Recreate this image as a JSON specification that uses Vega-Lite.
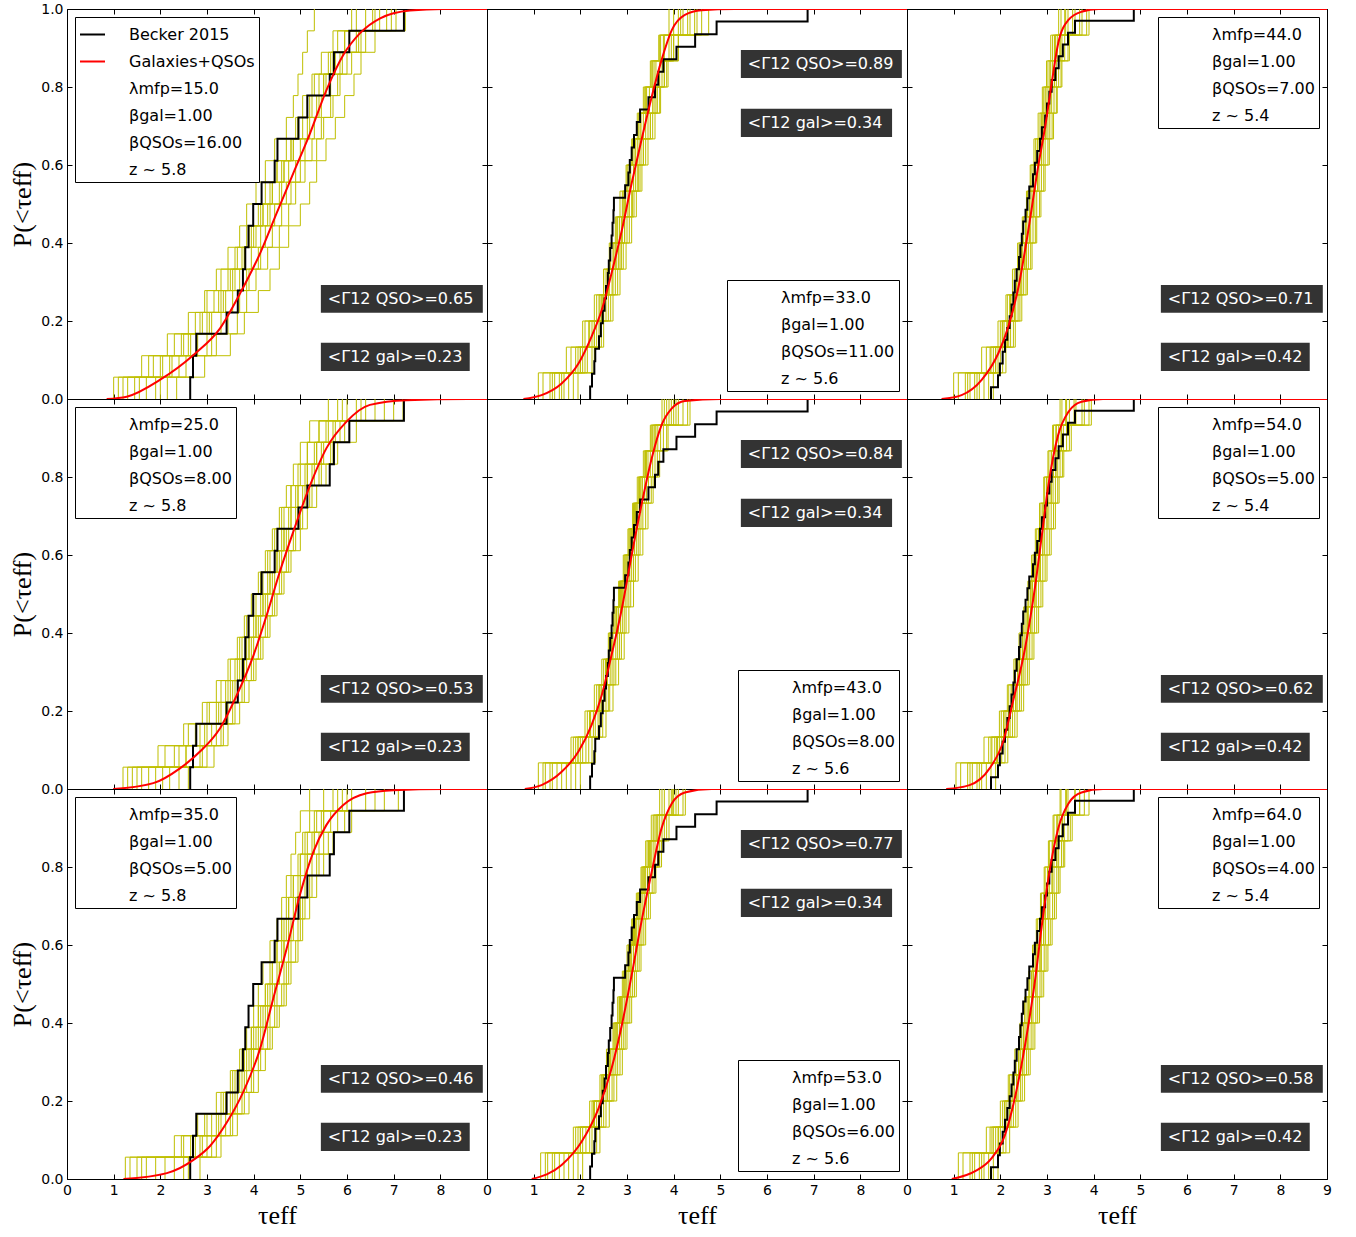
{
"$schema":"https://vega.github.io/schema/vega-lite/v6.json",
"background":"white",
"padding":{"left":9,"top":1,"right":0,"bottom":0},
"columns":3,
"spacing":0,
"bounds":"flush",
"resolve":{"scale":{"color":"independent"},"legend":{"color":"independent"}},
"datasets":{
"b58":[{"t":2.64,"y":0},{"t":2.64,"y":0.056},{"t":2.7,"y":0.111},{"t":2.77,"y":0.167},{"t":3.42,"y":0.222},{"t":3.66,"y":0.278},{"t":3.77,"y":0.333},{"t":3.82,"y":0.389},{"t":3.89,"y":0.444},{"t":3.99,"y":0.5},{"t":4.17,"y":0.556},{"t":4.45,"y":0.611},{"t":4.51,"y":0.667},{"t":4.96,"y":0.722},{"t":5.15,"y":0.778},{"t":5.63,"y":0.833},{"t":5.72,"y":0.889},{"t":6.05,"y":0.944},{"t":7.22,"y":1},{"t":9,"y":1}],
"b56":[{"t":2.21,"y":0},{"t":2.21,"y":0.032},{"t":2.25,"y":0.065},{"t":2.3,"y":0.097},{"t":2.32,"y":0.129},{"t":2.4,"y":0.161},{"t":2.44,"y":0.194},{"t":2.48,"y":0.226},{"t":2.52,"y":0.258},{"t":2.55,"y":0.29},{"t":2.59,"y":0.323},{"t":2.61,"y":0.355},{"t":2.64,"y":0.387},{"t":2.67,"y":0.419},{"t":2.69,"y":0.452},{"t":2.71,"y":0.484},{"t":2.72,"y":0.516},{"t":2.96,"y":0.548},{"t":3.03,"y":0.581},{"t":3.06,"y":0.613},{"t":3.1,"y":0.645},{"t":3.15,"y":0.677},{"t":3.21,"y":0.71},{"t":3.28,"y":0.742},{"t":3.46,"y":0.774},{"t":3.6,"y":0.806},{"t":3.67,"y":0.839},{"t":3.78,"y":0.871},{"t":4.06,"y":0.903},{"t":4.46,"y":0.935},{"t":4.92,"y":0.968},{"t":6.87,"y":1},{"t":9,"y":1}],
"b54":[{"t":1.8,"y":0},{"t":1.8,"y":0.03},{"t":1.95,"y":0.061},{"t":1.99,"y":0.091},{"t":2.05,"y":0.121},{"t":2.1,"y":0.152},{"t":2.15,"y":0.182},{"t":2.2,"y":0.212},{"t":2.24,"y":0.242},{"t":2.28,"y":0.273},{"t":2.31,"y":0.303},{"t":2.35,"y":0.333},{"t":2.4,"y":0.364},{"t":2.43,"y":0.394},{"t":2.46,"y":0.424},{"t":2.49,"y":0.455},{"t":2.54,"y":0.485},{"t":2.58,"y":0.515},{"t":2.62,"y":0.545},{"t":2.7,"y":0.576},{"t":2.74,"y":0.606},{"t":2.79,"y":0.636},{"t":2.85,"y":0.667},{"t":2.89,"y":0.697},{"t":2.96,"y":0.727},{"t":3,"y":0.758},{"t":3.05,"y":0.788},{"t":3.1,"y":0.818},{"t":3.18,"y":0.848},{"t":3.25,"y":0.879},{"t":3.34,"y":0.909},{"t":3.45,"y":0.939},{"t":3.6,"y":0.97},{"t":4.86,"y":1},{"t":9,"y":1}],
"r1":[{"t":0.85,"y":0},{"t":1.28,"y":0.006},{"t":1.99,"y":0.049},{"t":2.71,"y":0.113},{"t":3.28,"y":0.181},{"t":3.71,"y":0.271},{"t":4.14,"y":0.374},{"t":4.49,"y":0.476},{"t":4.85,"y":0.579},{"t":5.21,"y":0.682},{"t":5.56,"y":0.792},{"t":5.92,"y":0.882},{"t":6.28,"y":0.938},{"t":6.71,"y":0.976},{"t":7.35,"y":0.996},{"t":8.06,"y":1},{"t":9,"y":1}],
"r4":[{"t":0.99,"y":0},{"t":1.85,"y":0.015},{"t":2.42,"y":0.053},{"t":2.85,"y":0.096},{"t":3.28,"y":0.156},{"t":3.64,"y":0.241},{"t":4,"y":0.344},{"t":4.28,"y":0.446},{"t":4.56,"y":0.557},{"t":4.85,"y":0.66},{"t":5.21,"y":0.779},{"t":5.56,"y":0.874},{"t":5.99,"y":0.942},{"t":6.49,"y":0.985},{"t":7.28,"y":0.997},{"t":8.6,"y":1},{"t":9,"y":1}],
"r7":[{"t":1.21,"y":0},{"t":2.14,"y":0.015},{"t":2.71,"y":0.049},{"t":3.06,"y":0.084},{"t":3.42,"y":0.144},{"t":3.78,"y":0.224},{"t":4.14,"y":0.335},{"t":4.42,"y":0.463},{"t":4.71,"y":0.592},{"t":4.99,"y":0.728},{"t":5.28,"y":0.839},{"t":5.56,"y":0.908},{"t":5.92,"y":0.959},{"t":6.42,"y":0.989},{"t":6.99,"y":0.997},{"t":8.1,"y":1},{"t":9,"y":1}],
"r2":[{"t":0.78,"y":0},{"t":1.17,"y":0.01},{"t":1.6,"y":0.04},{"t":1.96,"y":0.091},{"t":2.24,"y":0.16},{"t":2.46,"y":0.229},{"t":2.67,"y":0.323},{"t":2.89,"y":0.433},{"t":3.1,"y":0.553},{"t":3.31,"y":0.664},{"t":3.53,"y":0.775},{"t":3.74,"y":0.869},{"t":3.96,"y":0.946},{"t":4.24,"y":0.985},{"t":4.6,"y":0.997},{"t":5.3,"y":1},{"t":9,"y":1}],
"r5":[{"t":0.81,"y":0},{"t":1.17,"y":0.01},{"t":1.6,"y":0.044},{"t":1.96,"y":0.096},{"t":2.24,"y":0.164},{"t":2.46,"y":0.241},{"t":2.67,"y":0.344},{"t":2.89,"y":0.463},{"t":3.1,"y":0.6},{"t":3.31,"y":0.728},{"t":3.53,"y":0.848},{"t":3.74,"y":0.933},{"t":3.96,"y":0.976},{"t":4.24,"y":0.995},{"t":5,"y":1},{"t":9,"y":1}],
"r8":[{"t":0.96,"y":0},{"t":1.6,"y":0.036},{"t":2.03,"y":0.096},{"t":2.39,"y":0.181},{"t":2.67,"y":0.284},{"t":2.89,"y":0.395},{"t":3.1,"y":0.523},{"t":3.31,"y":0.66},{"t":3.53,"y":0.788},{"t":3.74,"y":0.899},{"t":3.96,"y":0.963},{"t":4.24,"y":0.991},{"t":4.81,"y":1},{"t":9,"y":1}],
"r3":[{"t":0.74,"y":0},{"t":1.17,"y":0.01},{"t":1.6,"y":0.049},{"t":1.96,"y":0.118},{"t":2.17,"y":0.185},{"t":2.39,"y":0.288},{"t":2.6,"y":0.433},{"t":2.81,"y":0.596},{"t":2.96,"y":0.698},{"t":3.1,"y":0.809},{"t":3.24,"y":0.912},{"t":3.46,"y":0.972},{"t":3.74,"y":0.993},{"t":4.1,"y":1},{"t":9,"y":1}],
"r6":[{"t":0.84,"y":0},{"t":1.34,"y":0.01},{"t":1.77,"y":0.053},{"t":2.06,"y":0.121},{"t":2.27,"y":0.224},{"t":2.53,"y":0.361},{"t":2.74,"y":0.515},{"t":2.89,"y":0.651},{"t":3.03,"y":0.779},{"t":3.24,"y":0.908},{"t":3.46,"y":0.967},{"t":3.74,"y":0.993},{"t":4.2,"y":1},{"t":9,"y":1}],
"r9":[{"t":0.96,"y":0},{"t":1.46,"y":0.02},{"t":1.81,"y":0.053},{"t":2.1,"y":0.113},{"t":2.31,"y":0.207},{"t":2.53,"y":0.344},{"t":2.74,"y":0.506},{"t":2.89,"y":0.651},{"t":3.03,"y":0.771},{"t":3.24,"y":0.899},{"t":3.46,"y":0.963},{"t":3.74,"y":0.991},{"t":4.2,"y":1},{"t":9,"y":1}],
"y1":[
{"c":1,"t":1.2,"y":0},{"c":1,"t":1.2,"y":0.056},{"c":1,"t":1.85,"y":0.111},{"c":1,"t":2.3,"y":0.167},{"c":1,"t":2.75,"y":0.222},{"c":1,"t":3,"y":0.278},{"c":1,"t":3.2,"y":0.333},{"c":1,"t":3.45,"y":0.389},{"c":1,"t":3.7,"y":0.444},{"c":1,"t":3.85,"y":0.5},{"c":1,"t":4.05,"y":0.556},{"c":1,"t":4.25,"y":0.611},{"c":1,"t":4.45,"y":0.667},{"c":1,"t":4.7,"y":0.722},{"c":1,"t":4.85,"y":0.778},{"c":1,"t":4.95,"y":0.833},{"c":1,"t":5.05,"y":0.889},{"c":1,"t":5.15,"y":0.944},{"c":1,"t":5.3,"y":1},
{"c":2,"t":1.45,"y":0},{"c":2,"t":1.45,"y":0.056},{"c":2,"t":2.2,"y":0.111},{"c":2,"t":2.6,"y":0.167},{"c":2,"t":3.1,"y":0.222},{"c":2,"t":3.35,"y":0.278},{"c":2,"t":3.5,"y":0.333},{"c":2,"t":3.8,"y":0.389},{"c":2,"t":3.95,"y":0.444},{"c":2,"t":4.2,"y":0.5},{"c":2,"t":4.4,"y":0.556},{"c":2,"t":4.5,"y":0.611},{"c":2,"t":4.8,"y":0.667},{"c":2,"t":4.95,"y":0.722},{"c":2,"t":5.15,"y":0.778},{"c":2,"t":5.3,"y":0.833},{"c":2,"t":5.6,"y":0.889},{"c":2,"t":5.8,"y":0.944},{"c":2,"t":6.2,"y":1},
{"c":3,"t":1.7,"y":0},{"c":3,"t":1.7,"y":0.056},{"c":3,"t":2.4,"y":0.111},{"c":3,"t":3,"y":0.167},{"c":3,"t":3.3,"y":0.222},{"c":3,"t":3.55,"y":0.278},{"c":3,"t":3.85,"y":0.333},{"c":3,"t":4.1,"y":0.389},{"c":3,"t":4.25,"y":0.444},{"c":3,"t":4.45,"y":0.5},{"c":3,"t":4.7,"y":0.556},{"c":3,"t":4.9,"y":0.611},{"c":3,"t":5,"y":0.667},{"c":3,"t":5.3,"y":0.722},{"c":3,"t":5.45,"y":0.778},{"c":3,"t":5.65,"y":0.833},{"c":3,"t":5.85,"y":0.889},{"c":3,"t":6.05,"y":0.944},{"c":3,"t":6.55,"y":1},
{"c":4,"t":2,"y":0},{"c":4,"t":2,"y":0.056},{"c":4,"t":2.7,"y":0.111},{"c":4,"t":3.2,"y":0.167},{"c":4,"t":3.65,"y":0.222},{"c":4,"t":3.85,"y":0.278},{"c":4,"t":4.05,"y":0.333},{"c":4,"t":4.3,"y":0.389},{"c":4,"t":4.55,"y":0.444},{"c":4,"t":4.75,"y":0.5},{"c":4,"t":4.9,"y":0.556},{"c":4,"t":5.1,"y":0.611},{"c":4,"t":5.35,"y":0.667},{"c":4,"t":5.5,"y":0.722},{"c":4,"t":5.7,"y":0.778},{"c":4,"t":5.85,"y":0.833},{"c":4,"t":6.1,"y":0.889},{"c":4,"t":6.4,"y":0.944},{"c":4,"t":6.85,"y":1},
{"c":5,"t":2.35,"y":0},{"c":5,"t":2.35,"y":0.056},{"c":5,"t":2.95,"y":0.111},{"c":5,"t":3.5,"y":0.167},{"c":5,"t":3.8,"y":0.222},{"c":5,"t":4.1,"y":0.278},{"c":5,"t":4.35,"y":0.333},{"c":5,"t":4.55,"y":0.389},{"c":5,"t":4.75,"y":0.444},{"c":5,"t":5,"y":0.5},{"c":5,"t":5.2,"y":0.556},{"c":5,"t":5.35,"y":0.611},{"c":5,"t":5.55,"y":0.667},{"c":5,"t":5.75,"y":0.722},{"c":5,"t":5.95,"y":0.778},{"c":5,"t":6.15,"y":0.833},{"c":5,"t":6.3,"y":0.889},{"c":5,"t":6.6,"y":0.944},{"c":5,"t":7.05,"y":1},
{"c":6,"t":1.1,"y":0},{"c":6,"t":1.1,"y":0.056},{"c":6,"t":1.6,"y":0.111},{"c":6,"t":2.5,"y":0.167},{"c":6,"t":2.9,"y":0.222},{"c":6,"t":3.25,"y":0.278},{"c":6,"t":3.6,"y":0.333},{"c":6,"t":3.75,"y":0.389},{"c":6,"t":4,"y":0.444},{"c":6,"t":4.3,"y":0.5},{"c":6,"t":4.6,"y":0.556},{"c":6,"t":4.75,"y":0.611},{"c":6,"t":5.1,"y":0.667},{"c":6,"t":5.2,"y":0.722},{"c":6,"t":5.35,"y":0.778},{"c":6,"t":5.5,"y":0.833},{"c":6,"t":5.75,"y":0.889},{"c":6,"t":6.3,"y":0.944},{"c":6,"t":7.25,"y":1},
{"c":7,"t":1.9,"y":0},{"c":7,"t":1.9,"y":0.056},{"c":7,"t":2.25,"y":0.111},{"c":7,"t":2.8,"y":0.167},{"c":7,"t":3,"y":0.222},{"c":7,"t":3.4,"y":0.278},{"c":7,"t":3.7,"y":0.333},{"c":7,"t":3.95,"y":0.389},{"c":7,"t":4.15,"y":0.444},{"c":7,"t":4.35,"y":0.5},{"c":7,"t":4.55,"y":0.556},{"c":7,"t":4.65,"y":0.611},{"c":7,"t":4.85,"y":0.667},{"c":7,"t":5.05,"y":0.722},{"c":7,"t":5.25,"y":0.778},{"c":7,"t":5.55,"y":0.833},{"c":7,"t":5.9,"y":0.889},{"c":7,"t":6.25,"y":0.944},{"c":7,"t":6.7,"y":1},
{"c":8,"t":1.55,"y":0},{"c":8,"t":1.55,"y":0.056},{"c":8,"t":2.05,"y":0.111},{"c":8,"t":2.45,"y":0.167},{"c":8,"t":2.85,"y":0.222},{"c":8,"t":3.15,"y":0.278},{"c":8,"t":3.45,"y":0.333},{"c":8,"t":3.65,"y":0.389},{"c":8,"t":3.9,"y":0.444},{"c":8,"t":4.15,"y":0.5},{"c":8,"t":4.35,"y":0.556},{"c":8,"t":4.6,"y":0.611},{"c":8,"t":4.85,"y":0.667},{"c":8,"t":5.15,"y":0.722},{"c":8,"t":5.4,"y":0.778},{"c":8,"t":5.5,"y":0.833},{"c":8,"t":5.7,"y":0.889},{"c":8,"t":5.95,"y":0.944},{"c":8,"t":6.4,"y":1},
{"c":9,"t":1.3,"y":0},{"c":9,"t":1.3,"y":0.056},{"c":9,"t":2,"y":0.111},{"c":9,"t":2.65,"y":0.167},{"c":9,"t":3.05,"y":0.222},{"c":9,"t":3.3,"y":0.278},{"c":9,"t":3.55,"y":0.333},{"c":9,"t":3.8,"y":0.389},{"c":9,"t":4.05,"y":0.444},{"c":9,"t":4.2,"y":0.5},{"c":9,"t":4.4,"y":0.556},{"c":9,"t":4.65,"y":0.611},{"c":9,"t":4.8,"y":0.667},{"c":9,"t":4.95,"y":0.722},{"c":9,"t":5.2,"y":0.778},{"c":9,"t":5.4,"y":0.833},{"c":9,"t":5.65,"y":0.889},{"c":9,"t":5.95,"y":0.944},{"c":9,"t":6.6,"y":1},
{"c":10,"t":2.15,"y":0},{"c":10,"t":2.15,"y":0.056},{"c":10,"t":2.55,"y":0.111},{"c":10,"t":3.1,"y":0.167},{"c":10,"t":3.45,"y":0.222},{"c":10,"t":3.7,"y":0.278},{"c":10,"t":3.9,"y":0.333},{"c":10,"t":4.15,"y":0.389},{"c":10,"t":4.4,"y":0.444},{"c":10,"t":4.6,"y":0.5},{"c":10,"t":4.8,"y":0.556},{"c":10,"t":5,"y":0.611},{"c":10,"t":5.25,"y":0.667},{"c":10,"t":5.45,"y":0.722},{"c":10,"t":5.65,"y":0.778},{"c":10,"t":5.8,"y":0.833},{"c":10,"t":6,"y":0.889},{"c":10,"t":6.2,"y":0.944},{"c":10,"t":6.95,"y":1},
{"c":11,"t":1,"y":0},{"c":11,"t":1,"y":0.056},{"c":11,"t":1.75,"y":0.111},{"c":11,"t":2.15,"y":0.167},{"c":11,"t":2.6,"y":0.222},{"c":11,"t":2.95,"y":0.278},{"c":11,"t":3.3,"y":0.333},{"c":11,"t":3.6,"y":0.389},{"c":11,"t":3.85,"y":0.444},{"c":11,"t":4.1,"y":0.5},{"c":11,"t":4.25,"y":0.556},{"c":11,"t":4.5,"y":0.611},{"c":11,"t":4.7,"y":0.667},{"c":11,"t":4.9,"y":0.722},{"c":11,"t":5.05,"y":0.778},{"c":11,"t":5.25,"y":0.833},{"c":11,"t":5.45,"y":0.889},{"c":11,"t":5.7,"y":0.944},{"c":11,"t":6.1,"y":1}],
"y4":[
{"c":1,"t":1.3,"y":0},{"c":1,"t":1.3,"y":0.056},{"c":1,"t":2.1,"y":0.111},{"c":1,"t":2.6,"y":0.167},{"c":1,"t":3,"y":0.222},{"c":1,"t":3.3,"y":0.278},{"c":1,"t":3.5,"y":0.333},{"c":1,"t":3.7,"y":0.389},{"c":1,"t":3.85,"y":0.444},{"c":1,"t":3.95,"y":0.5},{"c":1,"t":4.1,"y":0.556},{"c":1,"t":4.25,"y":0.611},{"c":1,"t":4.4,"y":0.667},{"c":1,"t":4.55,"y":0.722},{"c":1,"t":4.7,"y":0.778},{"c":1,"t":4.85,"y":0.833},{"c":1,"t":5,"y":0.889},{"c":1,"t":5.2,"y":0.944},{"c":1,"t":5.6,"y":1},
{"c":2,"t":1.6,"y":0},{"c":2,"t":1.6,"y":0.056},{"c":2,"t":2.4,"y":0.111},{"c":2,"t":2.85,"y":0.167},{"c":2,"t":3.2,"y":0.222},{"c":2,"t":3.45,"y":0.278},{"c":2,"t":3.65,"y":0.333},{"c":2,"t":3.85,"y":0.389},{"c":2,"t":4,"y":0.444},{"c":2,"t":4.15,"y":0.5},{"c":2,"t":4.3,"y":0.556},{"c":2,"t":4.45,"y":0.611},{"c":2,"t":4.6,"y":0.667},{"c":2,"t":4.75,"y":0.722},{"c":2,"t":4.9,"y":0.778},{"c":2,"t":5.1,"y":0.833},{"c":2,"t":5.3,"y":0.889},{"c":2,"t":5.55,"y":0.944},{"c":2,"t":6,"y":1},
{"c":3,"t":1.9,"y":0},{"c":3,"t":1.9,"y":0.056},{"c":3,"t":2.7,"y":0.111},{"c":3,"t":3.1,"y":0.167},{"c":3,"t":3.4,"y":0.222},{"c":3,"t":3.6,"y":0.278},{"c":3,"t":3.8,"y":0.333},{"c":3,"t":3.95,"y":0.389},{"c":3,"t":4.1,"y":0.444},{"c":3,"t":4.25,"y":0.5},{"c":3,"t":4.4,"y":0.556},{"c":3,"t":4.55,"y":0.611},{"c":3,"t":4.7,"y":0.667},{"c":3,"t":4.9,"y":0.722},{"c":3,"t":5.05,"y":0.778},{"c":3,"t":5.25,"y":0.833},{"c":3,"t":5.45,"y":0.889},{"c":3,"t":5.75,"y":0.944},{"c":3,"t":6.4,"y":1},
{"c":4,"t":2.2,"y":0},{"c":4,"t":2.2,"y":0.056},{"c":4,"t":2.9,"y":0.111},{"c":4,"t":3.3,"y":0.167},{"c":4,"t":3.55,"y":0.222},{"c":4,"t":3.75,"y":0.278},{"c":4,"t":3.95,"y":0.333},{"c":4,"t":4.1,"y":0.389},{"c":4,"t":4.25,"y":0.444},{"c":4,"t":4.4,"y":0.5},{"c":4,"t":4.55,"y":0.556},{"c":4,"t":4.7,"y":0.611},{"c":4,"t":4.85,"y":0.667},{"c":4,"t":5,"y":0.722},{"c":4,"t":5.2,"y":0.778},{"c":4,"t":5.4,"y":0.833},{"c":4,"t":5.65,"y":0.889},{"c":4,"t":5.95,"y":0.944},{"c":4,"t":6.8,"y":1},
{"c":5,"t":2.6,"y":0},{"c":5,"t":2.6,"y":0.056},{"c":5,"t":3.15,"y":0.111},{"c":5,"t":3.45,"y":0.167},{"c":5,"t":3.7,"y":0.222},{"c":5,"t":3.9,"y":0.278},{"c":5,"t":4.05,"y":0.333},{"c":5,"t":4.2,"y":0.389},{"c":5,"t":4.35,"y":0.444},{"c":5,"t":4.5,"y":0.5},{"c":5,"t":4.65,"y":0.556},{"c":5,"t":4.8,"y":0.611},{"c":5,"t":5,"y":0.667},{"c":5,"t":5.15,"y":0.722},{"c":5,"t":5.35,"y":0.778},{"c":5,"t":5.55,"y":0.833},{"c":5,"t":5.8,"y":0.889},{"c":5,"t":6.2,"y":0.944},{"c":5,"t":7.2,"y":1},
{"c":6,"t":1.4,"y":0},{"c":6,"t":1.4,"y":0.056},{"c":6,"t":2.3,"y":0.111},{"c":6,"t":2.75,"y":0.167},{"c":6,"t":3.05,"y":0.222},{"c":6,"t":3.4,"y":0.278},{"c":6,"t":3.6,"y":0.333},{"c":6,"t":3.75,"y":0.389},{"c":6,"t":3.9,"y":0.444},{"c":6,"t":4.05,"y":0.5},{"c":6,"t":4.2,"y":0.556},{"c":6,"t":4.35,"y":0.611},{"c":6,"t":4.5,"y":0.667},{"c":6,"t":4.65,"y":0.722},{"c":6,"t":4.8,"y":0.778},{"c":6,"t":5,"y":0.833},{"c":6,"t":5.15,"y":0.889},{"c":6,"t":5.4,"y":0.944},{"c":6,"t":5.8,"y":1},
{"c":7,"t":2.05,"y":0},{"c":7,"t":2.05,"y":0.056},{"c":7,"t":2.55,"y":0.111},{"c":7,"t":2.95,"y":0.167},{"c":7,"t":3.3,"y":0.222},{"c":7,"t":3.5,"y":0.278},{"c":7,"t":3.7,"y":0.333},{"c":7,"t":3.9,"y":0.389},{"c":7,"t":4.05,"y":0.444},{"c":7,"t":4.2,"y":0.5},{"c":7,"t":4.35,"y":0.556},{"c":7,"t":4.5,"y":0.611},{"c":7,"t":4.65,"y":0.667},{"c":7,"t":4.8,"y":0.722},{"c":7,"t":4.95,"y":0.778},{"c":7,"t":5.15,"y":0.833},{"c":7,"t":5.35,"y":0.889},{"c":7,"t":5.6,"y":0.944},{"c":7,"t":6.2,"y":1},
{"c":8,"t":1.75,"y":0},{"c":8,"t":1.75,"y":0.056},{"c":8,"t":2.85,"y":0.111},{"c":8,"t":3.2,"y":0.167},{"c":8,"t":3.45,"y":0.222},{"c":8,"t":3.65,"y":0.278},{"c":8,"t":3.85,"y":0.333},{"c":8,"t":4,"y":0.389},{"c":8,"t":4.15,"y":0.444},{"c":8,"t":4.3,"y":0.5},{"c":8,"t":4.45,"y":0.556},{"c":8,"t":4.6,"y":0.611},{"c":8,"t":4.75,"y":0.667},{"c":8,"t":4.95,"y":0.722},{"c":8,"t":5.1,"y":0.778},{"c":8,"t":5.3,"y":0.833},{"c":8,"t":5.5,"y":0.889},{"c":8,"t":5.85,"y":0.944},{"c":8,"t":6.6,"y":1},
{"c":9,"t":1.5,"y":0},{"c":9,"t":1.5,"y":0.056},{"c":9,"t":2.55,"y":0.111},{"c":9,"t":3,"y":0.167},{"c":9,"t":3.25,"y":0.222},{"c":9,"t":3.55,"y":0.278},{"c":9,"t":3.75,"y":0.333},{"c":9,"t":3.9,"y":0.389},{"c":9,"t":4.05,"y":0.444},{"c":9,"t":4.2,"y":0.5},{"c":9,"t":4.35,"y":0.556},{"c":9,"t":4.5,"y":0.611},{"c":9,"t":4.65,"y":0.667},{"c":9,"t":4.8,"y":0.722},{"c":9,"t":4.95,"y":0.778},{"c":9,"t":5.15,"y":0.833},{"c":9,"t":5.35,"y":0.889},{"c":9,"t":5.7,"y":0.944},{"c":9,"t":6.3,"y":1},
{"c":10,"t":2.4,"y":0},{"c":10,"t":2.4,"y":0.056},{"c":10,"t":3,"y":0.111},{"c":10,"t":3.35,"y":0.167},{"c":10,"t":3.6,"y":0.222},{"c":10,"t":3.8,"y":0.278},{"c":10,"t":4,"y":0.333},{"c":10,"t":4.15,"y":0.389},{"c":10,"t":4.3,"y":0.444},{"c":10,"t":4.45,"y":0.5},{"c":10,"t":4.6,"y":0.556},{"c":10,"t":4.75,"y":0.611},{"c":10,"t":4.9,"y":0.667},{"c":10,"t":5.05,"y":0.722},{"c":10,"t":5.25,"y":0.778},{"c":10,"t":5.45,"y":0.833},{"c":10,"t":5.7,"y":0.889},{"c":10,"t":6.05,"y":0.944},{"c":10,"t":7,"y":1},
{"c":11,"t":1.2,"y":0},{"c":11,"t":1.2,"y":0.056},{"c":11,"t":1.95,"y":0.111},{"c":11,"t":2.5,"y":0.167},{"c":11,"t":2.9,"y":0.222},{"c":11,"t":3.2,"y":0.278},{"c":11,"t":3.45,"y":0.333},{"c":11,"t":3.65,"y":0.389},{"c":11,"t":3.8,"y":0.444},{"c":11,"t":4,"y":0.5},{"c":11,"t":4.15,"y":0.556},{"c":11,"t":4.3,"y":0.611},{"c":11,"t":4.45,"y":0.667},{"c":11,"t":4.6,"y":0.722},{"c":11,"t":4.8,"y":0.778},{"c":11,"t":4.95,"y":0.833},{"c":11,"t":5.15,"y":0.889},{"c":11,"t":5.4,"y":0.944},{"c":11,"t":5.9,"y":1}],
"y7":[
{"c":1,"t":1.25,"y":0},{"c":1,"t":1.25,"y":0.056},{"c":1,"t":2.3,"y":0.111},{"c":1,"t":2.8,"y":0.167},{"c":1,"t":3.2,"y":0.222},{"c":1,"t":3.5,"y":0.278},{"c":1,"t":3.7,"y":0.333},{"c":1,"t":3.85,"y":0.389},{"c":1,"t":4,"y":0.444},{"c":1,"t":4.1,"y":0.5},{"c":1,"t":4.2,"y":0.556},{"c":1,"t":4.35,"y":0.611},{"c":1,"t":4.5,"y":0.667},{"c":1,"t":4.6,"y":0.722},{"c":1,"t":4.7,"y":0.778},{"c":1,"t":4.8,"y":0.833},{"c":1,"t":4.9,"y":0.889},{"c":1,"t":5,"y":0.944},{"c":1,"t":5.2,"y":1},
{"c":2,"t":1.7,"y":0},{"c":2,"t":1.7,"y":0.056},{"c":2,"t":2.65,"y":0.111},{"c":2,"t":3.1,"y":0.167},{"c":2,"t":3.4,"y":0.222},{"c":2,"t":3.65,"y":0.278},{"c":2,"t":3.85,"y":0.333},{"c":2,"t":4,"y":0.389},{"c":2,"t":4.15,"y":0.444},{"c":2,"t":4.3,"y":0.5},{"c":2,"t":4.4,"y":0.556},{"c":2,"t":4.5,"y":0.611},{"c":2,"t":4.65,"y":0.667},{"c":2,"t":4.75,"y":0.722},{"c":2,"t":4.85,"y":0.778},{"c":2,"t":5,"y":0.833},{"c":2,"t":5.1,"y":0.889},{"c":2,"t":5.3,"y":0.944},{"c":2,"t":5.7,"y":1},
{"c":3,"t":2.1,"y":0},{"c":3,"t":2.1,"y":0.056},{"c":3,"t":2.9,"y":0.111},{"c":3,"t":3.3,"y":0.167},{"c":3,"t":3.6,"y":0.222},{"c":3,"t":3.8,"y":0.278},{"c":3,"t":3.95,"y":0.333},{"c":3,"t":4.15,"y":0.389},{"c":3,"t":4.3,"y":0.444},{"c":3,"t":4.45,"y":0.5},{"c":3,"t":4.55,"y":0.556},{"c":3,"t":4.65,"y":0.611},{"c":3,"t":4.8,"y":0.667},{"c":3,"t":4.9,"y":0.722},{"c":3,"t":5,"y":0.778},{"c":3,"t":5.15,"y":0.833},{"c":3,"t":5.3,"y":0.889},{"c":3,"t":5.5,"y":0.944},{"c":3,"t":6.1,"y":1},
{"c":4,"t":2.5,"y":0},{"c":4,"t":2.5,"y":0.056},{"c":4,"t":3.1,"y":0.111},{"c":4,"t":3.5,"y":0.167},{"c":4,"t":3.75,"y":0.222},{"c":4,"t":3.95,"y":0.278},{"c":4,"t":4.1,"y":0.333},{"c":4,"t":4.3,"y":0.389},{"c":4,"t":4.45,"y":0.444},{"c":4,"t":4.6,"y":0.5},{"c":4,"t":4.7,"y":0.556},{"c":4,"t":4.8,"y":0.611},{"c":4,"t":4.95,"y":0.667},{"c":4,"t":5.05,"y":0.722},{"c":4,"t":5.2,"y":0.778},{"c":4,"t":5.35,"y":0.833},{"c":4,"t":5.5,"y":0.889},{"c":4,"t":5.8,"y":0.944},{"c":4,"t":6.6,"y":1},
{"c":5,"t":2.85,"y":0},{"c":5,"t":2.85,"y":0.056},{"c":5,"t":3.3,"y":0.111},{"c":5,"t":3.65,"y":0.167},{"c":5,"t":3.9,"y":0.222},{"c":5,"t":4.1,"y":0.278},{"c":5,"t":4.25,"y":0.333},{"c":5,"t":4.4,"y":0.389},{"c":5,"t":4.55,"y":0.444},{"c":5,"t":4.7,"y":0.5},{"c":5,"t":4.8,"y":0.556},{"c":5,"t":4.95,"y":0.611},{"c":5,"t":5.05,"y":0.667},{"c":5,"t":5.2,"y":0.722},{"c":5,"t":5.35,"y":0.778},{"c":5,"t":5.5,"y":0.833},{"c":5,"t":5.7,"y":0.889},{"c":5,"t":6.1,"y":0.944},{"c":5,"t":7.1,"y":1},
{"c":6,"t":1.5,"y":0},{"c":6,"t":1.5,"y":0.056},{"c":6,"t":2.45,"y":0.111},{"c":6,"t":2.95,"y":0.167},{"c":6,"t":3.3,"y":0.222},{"c":6,"t":3.55,"y":0.278},{"c":6,"t":3.75,"y":0.333},{"c":6,"t":3.95,"y":0.389},{"c":6,"t":4.1,"y":0.444},{"c":6,"t":4.25,"y":0.5},{"c":6,"t":4.35,"y":0.556},{"c":6,"t":4.45,"y":0.611},{"c":6,"t":4.6,"y":0.667},{"c":6,"t":4.7,"y":0.722},{"c":6,"t":4.8,"y":0.778},{"c":6,"t":4.95,"y":0.833},{"c":6,"t":5.05,"y":0.889},{"c":6,"t":5.2,"y":0.944},{"c":6,"t":5.5,"y":1},
{"c":7,"t":2.3,"y":0},{"c":7,"t":2.3,"y":0.056},{"c":7,"t":2.75,"y":0.111},{"c":7,"t":3.2,"y":0.167},{"c":7,"t":3.5,"y":0.222},{"c":7,"t":3.7,"y":0.278},{"c":7,"t":3.9,"y":0.333},{"c":7,"t":4.05,"y":0.389},{"c":7,"t":4.2,"y":0.444},{"c":7,"t":4.35,"y":0.5},{"c":7,"t":4.5,"y":0.556},{"c":7,"t":4.6,"y":0.611},{"c":7,"t":4.7,"y":0.667},{"c":7,"t":4.85,"y":0.722},{"c":7,"t":4.95,"y":0.778},{"c":7,"t":5.1,"y":0.833},{"c":7,"t":5.25,"y":0.889},{"c":7,"t":5.45,"y":0.944},{"c":7,"t":5.9,"y":1},
{"c":8,"t":1.9,"y":0},{"c":8,"t":1.9,"y":0.056},{"c":8,"t":3,"y":0.111},{"c":8,"t":3.4,"y":0.167},{"c":8,"t":3.65,"y":0.222},{"c":8,"t":3.85,"y":0.278},{"c":8,"t":4,"y":0.333},{"c":8,"t":4.2,"y":0.389},{"c":8,"t":4.35,"y":0.444},{"c":8,"t":4.5,"y":0.5},{"c":8,"t":4.65,"y":0.556},{"c":8,"t":4.75,"y":0.611},{"c":8,"t":4.85,"y":0.667},{"c":8,"t":5,"y":0.722},{"c":8,"t":5.1,"y":0.778},{"c":8,"t":5.25,"y":0.833},{"c":8,"t":5.4,"y":0.889},{"c":8,"t":5.65,"y":0.944},{"c":8,"t":6.4,"y":1},
{"c":9,"t":1.6,"y":0},{"c":9,"t":1.6,"y":0.056},{"c":9,"t":2.85,"y":0.111},{"c":9,"t":3.25,"y":0.167},{"c":9,"t":3.55,"y":0.222},{"c":9,"t":3.75,"y":0.278},{"c":9,"t":3.95,"y":0.333},{"c":9,"t":4.1,"y":0.389},{"c":9,"t":4.25,"y":0.444},{"c":9,"t":4.4,"y":0.5},{"c":9,"t":4.55,"y":0.556},{"c":9,"t":4.65,"y":0.611},{"c":9,"t":4.75,"y":0.667},{"c":9,"t":4.9,"y":0.722},{"c":9,"t":5,"y":0.778},{"c":9,"t":5.15,"y":0.833},{"c":9,"t":5.3,"y":0.889},{"c":9,"t":5.5,"y":0.944},{"c":9,"t":6,"y":1},
{"c":10,"t":2.6,"y":0},{"c":10,"t":2.6,"y":0.056},{"c":10,"t":3.2,"y":0.111},{"c":10,"t":3.55,"y":0.167},{"c":10,"t":3.8,"y":0.222},{"c":10,"t":4,"y":0.278},{"c":10,"t":4.15,"y":0.333},{"c":10,"t":4.35,"y":0.389},{"c":10,"t":4.5,"y":0.444},{"c":10,"t":4.65,"y":0.5},{"c":10,"t":4.75,"y":0.556},{"c":10,"t":4.9,"y":0.611},{"c":10,"t":5,"y":0.667},{"c":10,"t":5.1,"y":0.722},{"c":10,"t":5.25,"y":0.778},{"c":10,"t":5.4,"y":0.833},{"c":10,"t":5.6,"y":0.889},{"c":10,"t":5.95,"y":0.944},{"c":10,"t":6.8,"y":1},
{"c":11,"t":1.35,"y":0},{"c":11,"t":1.35,"y":0.056},{"c":11,"t":2.5,"y":0.111},{"c":11,"t":3,"y":0.167},{"c":11,"t":3.35,"y":0.222},{"c":11,"t":3.6,"y":0.278},{"c":11,"t":3.8,"y":0.333},{"c":11,"t":3.95,"y":0.389},{"c":11,"t":4.1,"y":0.444},{"c":11,"t":4.25,"y":0.5},{"c":11,"t":4.4,"y":0.556},{"c":11,"t":4.5,"y":0.611},{"c":11,"t":4.6,"y":0.667},{"c":11,"t":4.75,"y":0.722},{"c":11,"t":4.85,"y":0.778},{"c":11,"t":5,"y":0.833},{"c":11,"t":5.15,"y":0.889},{"c":11,"t":5.35,"y":0.944},{"c":11,"t":5.8,"y":1}],
"y2":[
{"c":1,"t":1.2,"y":0},{"c":1,"t":1.2,"y":0.067},{"c":1,"t":1.8,"y":0.133},{"c":1,"t":2.1,"y":0.2},{"c":1,"t":2.35,"y":0.267},{"c":1,"t":2.5,"y":0.333},{"c":1,"t":2.62,"y":0.4},{"c":1,"t":2.75,"y":0.467},{"c":1,"t":2.85,"y":0.533},{"c":1,"t":2.98,"y":0.6},{"c":1,"t":3.1,"y":0.667},{"c":1,"t":3.22,"y":0.733},{"c":1,"t":3.35,"y":0.8},{"c":1,"t":3.5,"y":0.867},{"c":1,"t":3.68,"y":0.933},{"c":1,"t":3.9,"y":1},
{"c":2,"t":1.45,"y":0},{"c":2,"t":1.45,"y":0.067},{"c":2,"t":1.95,"y":0.133},{"c":2,"t":2.25,"y":0.2},{"c":2,"t":2.45,"y":0.267},{"c":2,"t":2.6,"y":0.333},{"c":2,"t":2.75,"y":0.4},{"c":2,"t":2.88,"y":0.467},{"c":2,"t":2.97,"y":0.533},{"c":2,"t":3.08,"y":0.6},{"c":2,"t":3.22,"y":0.667},{"c":2,"t":3.35,"y":0.733},{"c":2,"t":3.48,"y":0.8},{"c":2,"t":3.62,"y":0.867},{"c":2,"t":3.8,"y":0.933},{"c":2,"t":4.1,"y":1},
{"c":3,"t":1.65,"y":0},{"c":3,"t":1.65,"y":0.067},{"c":3,"t":2.1,"y":0.133},{"c":3,"t":2.35,"y":0.2},{"c":3,"t":2.55,"y":0.267},{"c":3,"t":2.7,"y":0.333},{"c":3,"t":2.82,"y":0.4},{"c":3,"t":2.95,"y":0.467},{"c":3,"t":3.05,"y":0.533},{"c":3,"t":3.18,"y":0.6},{"c":3,"t":3.3,"y":0.667},{"c":3,"t":3.45,"y":0.733},{"c":3,"t":3.58,"y":0.8},{"c":3,"t":3.75,"y":0.867},{"c":3,"t":3.95,"y":0.933},{"c":3,"t":4.35,"y":1},
{"c":4,"t":1.85,"y":0},{"c":4,"t":1.85,"y":0.067},{"c":4,"t":2.25,"y":0.133},{"c":4,"t":2.45,"y":0.2},{"c":4,"t":2.65,"y":0.267},{"c":4,"t":2.8,"y":0.333},{"c":4,"t":2.92,"y":0.4},{"c":4,"t":3.05,"y":0.467},{"c":4,"t":3.15,"y":0.533},{"c":4,"t":3.28,"y":0.6},{"c":4,"t":3.4,"y":0.667},{"c":4,"t":3.55,"y":0.733},{"c":4,"t":3.7,"y":0.8},{"c":4,"t":3.85,"y":0.867},{"c":4,"t":4.1,"y":0.933},{"c":4,"t":4.6,"y":1},
{"c":5,"t":1.35,"y":0},{"c":5,"t":1.35,"y":0.067},{"c":5,"t":2.05,"y":0.133},{"c":5,"t":2.3,"y":0.2},{"c":5,"t":2.5,"y":0.267},{"c":5,"t":2.68,"y":0.333},{"c":5,"t":2.85,"y":0.4},{"c":5,"t":2.95,"y":0.467},{"c":5,"t":3.1,"y":0.533},{"c":5,"t":3.25,"y":0.6},{"c":5,"t":3.35,"y":0.667},{"c":5,"t":3.5,"y":0.733},{"c":5,"t":3.62,"y":0.8},{"c":5,"t":3.8,"y":0.867},{"c":5,"t":4,"y":0.933},{"c":5,"t":4.45,"y":1},
{"c":6,"t":1.55,"y":0},{"c":6,"t":1.55,"y":0.067},{"c":6,"t":2,"y":0.133},{"c":6,"t":2.2,"y":0.2},{"c":6,"t":2.4,"y":0.267},{"c":6,"t":2.55,"y":0.333},{"c":6,"t":2.7,"y":0.4},{"c":6,"t":2.8,"y":0.467},{"c":6,"t":2.92,"y":0.533},{"c":6,"t":3.02,"y":0.6},{"c":6,"t":3.15,"y":0.667},{"c":6,"t":3.28,"y":0.733},{"c":6,"t":3.4,"y":0.8},{"c":6,"t":3.55,"y":0.867},{"c":6,"t":3.72,"y":0.933},{"c":6,"t":4.2,"y":1},
{"c":7,"t":1.75,"y":0},{"c":7,"t":1.75,"y":0.067},{"c":7,"t":2.15,"y":0.133},{"c":7,"t":2.4,"y":0.2},{"c":7,"t":2.6,"y":0.267},{"c":7,"t":2.75,"y":0.333},{"c":7,"t":2.88,"y":0.4},{"c":7,"t":3,"y":0.467},{"c":7,"t":3.12,"y":0.533},{"c":7,"t":3.22,"y":0.6},{"c":7,"t":3.35,"y":0.667},{"c":7,"t":3.5,"y":0.733},{"c":7,"t":3.65,"y":0.8},{"c":7,"t":3.8,"y":0.867},{"c":7,"t":4,"y":0.933},{"c":7,"t":4.75,"y":1},
{"c":8,"t":1.1,"y":0},{"c":8,"t":1.1,"y":0.067},{"c":8,"t":1.7,"y":0.133},{"c":8,"t":2.05,"y":0.2},{"c":8,"t":2.3,"y":0.267},{"c":8,"t":2.5,"y":0.333},{"c":8,"t":2.65,"y":0.4},{"c":8,"t":2.78,"y":0.467},{"c":8,"t":2.9,"y":0.533},{"c":8,"t":3,"y":0.6},{"c":8,"t":3.12,"y":0.667},{"c":8,"t":3.25,"y":0.733},{"c":8,"t":3.38,"y":0.8},{"c":8,"t":3.52,"y":0.867},{"c":8,"t":3.7,"y":0.933},{"c":8,"t":4,"y":1},
{"c":9,"t":1.95,"y":0},{"c":9,"t":1.95,"y":0.067},{"c":9,"t":2.3,"y":0.133},{"c":9,"t":2.5,"y":0.2},{"c":9,"t":2.7,"y":0.267},{"c":9,"t":2.85,"y":0.333},{"c":9,"t":2.98,"y":0.4},{"c":9,"t":3.1,"y":0.467},{"c":9,"t":3.2,"y":0.533},{"c":9,"t":3.32,"y":0.6},{"c":9,"t":3.45,"y":0.667},{"c":9,"t":3.6,"y":0.733},{"c":9,"t":3.72,"y":0.8},{"c":9,"t":3.88,"y":0.867},{"c":9,"t":4.1,"y":0.933},{"c":9,"t":4.5,"y":1},
{"c":10,"t":1.6,"y":0},{"c":10,"t":1.6,"y":0.067},{"c":10,"t":2,"y":0.133},{"c":10,"t":2.3,"y":0.2},{"c":10,"t":2.48,"y":0.267},{"c":10,"t":2.62,"y":0.333},{"c":10,"t":2.78,"y":0.4},{"c":10,"t":2.9,"y":0.467},{"c":10,"t":3.02,"y":0.533},{"c":10,"t":3.14,"y":0.6},{"c":10,"t":3.26,"y":0.667},{"c":10,"t":3.4,"y":0.733},{"c":10,"t":3.55,"y":0.8},{"c":10,"t":3.7,"y":0.867},{"c":10,"t":3.9,"y":0.933},{"c":10,"t":4.3,"y":1},
{"c":11,"t":1.4,"y":0},{"c":11,"t":1.4,"y":0.067},{"c":11,"t":1.9,"y":0.133},{"c":11,"t":2.18,"y":0.2},{"c":11,"t":2.42,"y":0.267},{"c":11,"t":2.58,"y":0.333},{"c":11,"t":2.72,"y":0.4},{"c":11,"t":2.84,"y":0.467},{"c":11,"t":2.95,"y":0.533},{"c":11,"t":3.06,"y":0.6},{"c":11,"t":3.18,"y":0.667},{"c":11,"t":3.3,"y":0.733},{"c":11,"t":3.42,"y":0.8},{"c":11,"t":3.58,"y":0.867},{"c":11,"t":3.78,"y":0.933},{"c":11,"t":4.15,"y":1}],
"y5":[
{"c":1,"t":1.25,"y":0},{"c":1,"t":1.25,"y":0.067},{"c":1,"t":1.85,"y":0.133},{"c":1,"t":2.15,"y":0.2},{"c":1,"t":2.35,"y":0.267},{"c":1,"t":2.5,"y":0.333},{"c":1,"t":2.62,"y":0.4},{"c":1,"t":2.72,"y":0.467},{"c":1,"t":2.82,"y":0.533},{"c":1,"t":2.92,"y":0.6},{"c":1,"t":3.02,"y":0.667},{"c":1,"t":3.12,"y":0.733},{"c":1,"t":3.22,"y":0.8},{"c":1,"t":3.35,"y":0.867},{"c":1,"t":3.5,"y":0.933},{"c":1,"t":3.75,"y":1},
{"c":2,"t":1.5,"y":0},{"c":2,"t":1.5,"y":0.067},{"c":2,"t":2,"y":0.133},{"c":2,"t":2.28,"y":0.2},{"c":2,"t":2.45,"y":0.267},{"c":2,"t":2.58,"y":0.333},{"c":2,"t":2.7,"y":0.4},{"c":2,"t":2.82,"y":0.467},{"c":2,"t":2.92,"y":0.533},{"c":2,"t":3.02,"y":0.6},{"c":2,"t":3.12,"y":0.667},{"c":2,"t":3.22,"y":0.733},{"c":2,"t":3.33,"y":0.8},{"c":2,"t":3.45,"y":0.867},{"c":2,"t":3.62,"y":0.933},{"c":2,"t":3.9,"y":1},
{"c":3,"t":1.7,"y":0},{"c":3,"t":1.7,"y":0.067},{"c":3,"t":2.12,"y":0.133},{"c":3,"t":2.38,"y":0.2},{"c":3,"t":2.55,"y":0.267},{"c":3,"t":2.68,"y":0.333},{"c":3,"t":2.8,"y":0.4},{"c":3,"t":2.9,"y":0.467},{"c":3,"t":3,"y":0.533},{"c":3,"t":3.1,"y":0.6},{"c":3,"t":3.2,"y":0.667},{"c":3,"t":3.3,"y":0.733},{"c":3,"t":3.42,"y":0.8},{"c":3,"t":3.55,"y":0.867},{"c":3,"t":3.72,"y":0.933},{"c":3,"t":4.1,"y":1},
{"c":4,"t":1.9,"y":0},{"c":4,"t":1.9,"y":0.067},{"c":4,"t":2.25,"y":0.133},{"c":4,"t":2.48,"y":0.2},{"c":4,"t":2.63,"y":0.267},{"c":4,"t":2.76,"y":0.333},{"c":4,"t":2.88,"y":0.4},{"c":4,"t":2.98,"y":0.467},{"c":4,"t":3.08,"y":0.533},{"c":4,"t":3.18,"y":0.6},{"c":4,"t":3.28,"y":0.667},{"c":4,"t":3.4,"y":0.733},{"c":4,"t":3.52,"y":0.8},{"c":4,"t":3.65,"y":0.867},{"c":4,"t":3.85,"y":0.933},{"c":4,"t":4.3,"y":1},
{"c":5,"t":1.1,"y":0},{"c":5,"t":1.1,"y":0.067},{"c":5,"t":1.95,"y":0.133},{"c":5,"t":2.22,"y":0.2},{"c":5,"t":2.4,"y":0.267},{"c":5,"t":2.55,"y":0.333},{"c":5,"t":2.66,"y":0.4},{"c":5,"t":2.78,"y":0.467},{"c":5,"t":2.88,"y":0.533},{"c":5,"t":2.98,"y":0.6},{"c":5,"t":3.08,"y":0.667},{"c":5,"t":3.18,"y":0.733},{"c":5,"t":3.28,"y":0.8},{"c":5,"t":3.4,"y":0.867},{"c":5,"t":3.58,"y":0.933},{"c":5,"t":4,"y":1},
{"c":6,"t":1.4,"y":0},{"c":6,"t":1.4,"y":0.067},{"c":6,"t":1.95,"y":0.133},{"c":6,"t":2.2,"y":0.2},{"c":6,"t":2.42,"y":0.267},{"c":6,"t":2.56,"y":0.333},{"c":6,"t":2.68,"y":0.4},{"c":6,"t":2.78,"y":0.467},{"c":6,"t":2.9,"y":0.533},{"c":6,"t":3,"y":0.6},{"c":6,"t":3.1,"y":0.667},{"c":6,"t":3.2,"y":0.733},{"c":6,"t":3.3,"y":0.8},{"c":6,"t":3.42,"y":0.867},{"c":6,"t":3.6,"y":0.933},{"c":6,"t":3.95,"y":1},
{"c":7,"t":1.8,"y":0},{"c":7,"t":1.8,"y":0.067},{"c":7,"t":2.18,"y":0.133},{"c":7,"t":2.42,"y":0.2},{"c":7,"t":2.6,"y":0.267},{"c":7,"t":2.72,"y":0.333},{"c":7,"t":2.84,"y":0.4},{"c":7,"t":2.94,"y":0.467},{"c":7,"t":3.04,"y":0.533},{"c":7,"t":3.14,"y":0.6},{"c":7,"t":3.24,"y":0.667},{"c":7,"t":3.34,"y":0.733},{"c":7,"t":3.46,"y":0.8},{"c":7,"t":3.6,"y":0.867},{"c":7,"t":3.78,"y":0.933},{"c":7,"t":4.2,"y":1},
{"c":8,"t":1.2,"y":0},{"c":8,"t":1.2,"y":0.067},{"c":8,"t":1.8,"y":0.133},{"c":8,"t":2.1,"y":0.2},{"c":8,"t":2.3,"y":0.267},{"c":8,"t":2.46,"y":0.333},{"c":8,"t":2.6,"y":0.4},{"c":8,"t":2.72,"y":0.467},{"c":8,"t":2.84,"y":0.533},{"c":8,"t":2.94,"y":0.6},{"c":8,"t":3.04,"y":0.667},{"c":8,"t":3.14,"y":0.733},{"c":8,"t":3.25,"y":0.8},{"c":8,"t":3.38,"y":0.867},{"c":8,"t":3.52,"y":0.933},{"c":8,"t":3.8,"y":1},
{"c":9,"t":2,"y":0},{"c":9,"t":2,"y":0.067},{"c":9,"t":2.32,"y":0.133},{"c":9,"t":2.55,"y":0.2},{"c":9,"t":2.7,"y":0.267},{"c":9,"t":2.82,"y":0.333},{"c":9,"t":2.94,"y":0.4},{"c":9,"t":3.04,"y":0.467},{"c":9,"t":3.14,"y":0.533},{"c":9,"t":3.24,"y":0.6},{"c":9,"t":3.34,"y":0.667},{"c":9,"t":3.45,"y":0.733},{"c":9,"t":3.56,"y":0.8},{"c":9,"t":3.7,"y":0.867},{"c":9,"t":3.88,"y":0.933},{"c":9,"t":4.35,"y":1},
{"c":10,"t":1.6,"y":0},{"c":10,"t":1.6,"y":0.067},{"c":10,"t":2.05,"y":0.133},{"c":10,"t":2.32,"y":0.2},{"c":10,"t":2.5,"y":0.267},{"c":10,"t":2.64,"y":0.333},{"c":10,"t":2.76,"y":0.4},{"c":10,"t":2.86,"y":0.467},{"c":10,"t":2.96,"y":0.533},{"c":10,"t":3.06,"y":0.6},{"c":10,"t":3.16,"y":0.667},{"c":10,"t":3.26,"y":0.733},{"c":10,"t":3.38,"y":0.8},{"c":10,"t":3.5,"y":0.867},{"c":10,"t":3.66,"y":0.933},{"c":10,"t":4.05,"y":1},
{"c":11,"t":1.35,"y":0},{"c":11,"t":1.35,"y":0.067},{"c":11,"t":1.9,"y":0.133},{"c":11,"t":2.2,"y":0.2},{"c":11,"t":2.4,"y":0.267},{"c":11,"t":2.54,"y":0.333},{"c":11,"t":2.66,"y":0.4},{"c":11,"t":2.76,"y":0.467},{"c":11,"t":2.86,"y":0.533},{"c":11,"t":2.96,"y":0.6},{"c":11,"t":3.06,"y":0.667},{"c":11,"t":3.16,"y":0.733},{"c":11,"t":3.27,"y":0.8},{"c":11,"t":3.4,"y":0.867},{"c":11,"t":3.55,"y":0.933},{"c":11,"t":3.85,"y":1}],
"y8":[
{"c":1,"t":1.3,"y":0},{"c":1,"t":1.3,"y":0.067},{"c":1,"t":1.9,"y":0.133},{"c":1,"t":2.25,"y":0.2},{"c":1,"t":2.45,"y":0.267},{"c":1,"t":2.6,"y":0.333},{"c":1,"t":2.72,"y":0.4},{"c":1,"t":2.83,"y":0.467},{"c":1,"t":2.93,"y":0.533},{"c":1,"t":3.03,"y":0.6},{"c":1,"t":3.12,"y":0.667},{"c":1,"t":3.22,"y":0.733},{"c":1,"t":3.32,"y":0.8},{"c":1,"t":3.43,"y":0.867},{"c":1,"t":3.56,"y":0.933},{"c":1,"t":3.75,"y":1},
{"c":2,"t":1.55,"y":0},{"c":2,"t":1.55,"y":0.067},{"c":2,"t":2.05,"y":0.133},{"c":2,"t":2.35,"y":0.2},{"c":2,"t":2.55,"y":0.267},{"c":2,"t":2.68,"y":0.333},{"c":2,"t":2.8,"y":0.4},{"c":2,"t":2.9,"y":0.467},{"c":2,"t":3,"y":0.533},{"c":2,"t":3.1,"y":0.6},{"c":2,"t":3.2,"y":0.667},{"c":2,"t":3.3,"y":0.733},{"c":2,"t":3.4,"y":0.8},{"c":2,"t":3.52,"y":0.867},{"c":2,"t":3.66,"y":0.933},{"c":2,"t":3.9,"y":1},
{"c":3,"t":1.75,"y":0},{"c":3,"t":1.75,"y":0.067},{"c":3,"t":2.2,"y":0.133},{"c":3,"t":2.45,"y":0.2},{"c":3,"t":2.62,"y":0.267},{"c":3,"t":2.76,"y":0.333},{"c":3,"t":2.88,"y":0.4},{"c":3,"t":2.98,"y":0.467},{"c":3,"t":3.08,"y":0.533},{"c":3,"t":3.18,"y":0.6},{"c":3,"t":3.28,"y":0.667},{"c":3,"t":3.38,"y":0.733},{"c":3,"t":3.48,"y":0.8},{"c":3,"t":3.6,"y":0.867},{"c":3,"t":3.75,"y":0.933},{"c":3,"t":4.05,"y":1},
{"c":4,"t":1.95,"y":0},{"c":4,"t":1.95,"y":0.067},{"c":4,"t":2.35,"y":0.133},{"c":4,"t":2.55,"y":0.2},{"c":4,"t":2.72,"y":0.267},{"c":4,"t":2.85,"y":0.333},{"c":4,"t":2.96,"y":0.4},{"c":4,"t":3.06,"y":0.467},{"c":4,"t":3.16,"y":0.533},{"c":4,"t":3.26,"y":0.6},{"c":4,"t":3.36,"y":0.667},{"c":4,"t":3.46,"y":0.733},{"c":4,"t":3.58,"y":0.8},{"c":4,"t":3.7,"y":0.867},{"c":4,"t":3.85,"y":0.933},{"c":4,"t":4.2,"y":1},
{"c":5,"t":1.15,"y":0},{"c":5,"t":1.15,"y":0.067},{"c":5,"t":2,"y":0.133},{"c":5,"t":2.3,"y":0.2},{"c":5,"t":2.5,"y":0.267},{"c":5,"t":2.64,"y":0.333},{"c":5,"t":2.76,"y":0.4},{"c":5,"t":2.86,"y":0.467},{"c":5,"t":2.96,"y":0.533},{"c":5,"t":3.06,"y":0.6},{"c":5,"t":3.16,"y":0.667},{"c":5,"t":3.26,"y":0.733},{"c":5,"t":3.36,"y":0.8},{"c":5,"t":3.48,"y":0.867},{"c":5,"t":3.62,"y":0.933},{"c":5,"t":4,"y":1},
{"c":6,"t":1.45,"y":0},{"c":6,"t":1.45,"y":0.067},{"c":6,"t":2,"y":0.133},{"c":6,"t":2.3,"y":0.2},{"c":6,"t":2.5,"y":0.267},{"c":6,"t":2.64,"y":0.333},{"c":6,"t":2.78,"y":0.4},{"c":6,"t":2.88,"y":0.467},{"c":6,"t":2.98,"y":0.533},{"c":6,"t":3.08,"y":0.6},{"c":6,"t":3.18,"y":0.667},{"c":6,"t":3.28,"y":0.733},{"c":6,"t":3.38,"y":0.8},{"c":6,"t":3.5,"y":0.867},{"c":6,"t":3.64,"y":0.933},{"c":6,"t":3.95,"y":1},
{"c":7,"t":1.85,"y":0},{"c":7,"t":1.85,"y":0.067},{"c":7,"t":2.25,"y":0.133},{"c":7,"t":2.5,"y":0.2},{"c":7,"t":2.68,"y":0.267},{"c":7,"t":2.8,"y":0.333},{"c":7,"t":2.92,"y":0.4},{"c":7,"t":3.02,"y":0.467},{"c":7,"t":3.12,"y":0.533},{"c":7,"t":3.22,"y":0.6},{"c":7,"t":3.32,"y":0.667},{"c":7,"t":3.42,"y":0.733},{"c":7,"t":3.54,"y":0.8},{"c":7,"t":3.66,"y":0.867},{"c":7,"t":3.8,"y":0.933},{"c":7,"t":4.1,"y":1},
{"c":8,"t":1.25,"y":0},{"c":8,"t":1.25,"y":0.067},{"c":8,"t":1.85,"y":0.133},{"c":8,"t":2.2,"y":0.2},{"c":8,"t":2.42,"y":0.267},{"c":8,"t":2.56,"y":0.333},{"c":8,"t":2.7,"y":0.4},{"c":8,"t":2.8,"y":0.467},{"c":8,"t":2.9,"y":0.533},{"c":8,"t":3,"y":0.6},{"c":8,"t":3.1,"y":0.667},{"c":8,"t":3.2,"y":0.733},{"c":8,"t":3.3,"y":0.8},{"c":8,"t":3.4,"y":0.867},{"c":8,"t":3.52,"y":0.933},{"c":8,"t":3.7,"y":1},
{"c":9,"t":2.05,"y":0},{"c":9,"t":2.05,"y":0.067},{"c":9,"t":2.42,"y":0.133},{"c":9,"t":2.62,"y":0.2},{"c":9,"t":2.78,"y":0.267},{"c":9,"t":2.9,"y":0.333},{"c":9,"t":3,"y":0.4},{"c":9,"t":3.1,"y":0.467},{"c":9,"t":3.2,"y":0.533},{"c":9,"t":3.3,"y":0.6},{"c":9,"t":3.4,"y":0.667},{"c":9,"t":3.5,"y":0.733},{"c":9,"t":3.62,"y":0.8},{"c":9,"t":3.74,"y":0.867},{"c":9,"t":3.9,"y":0.933},{"c":9,"t":4.25,"y":1},
{"c":10,"t":1.65,"y":0},{"c":10,"t":1.65,"y":0.067},{"c":10,"t":2.12,"y":0.133},{"c":10,"t":2.4,"y":0.2},{"c":10,"t":2.58,"y":0.267},{"c":10,"t":2.72,"y":0.333},{"c":10,"t":2.84,"y":0.4},{"c":10,"t":2.94,"y":0.467},{"c":10,"t":3.04,"y":0.533},{"c":10,"t":3.14,"y":0.6},{"c":10,"t":3.24,"y":0.667},{"c":10,"t":3.34,"y":0.733},{"c":10,"t":3.44,"y":0.8},{"c":10,"t":3.56,"y":0.867},{"c":10,"t":3.7,"y":0.933},{"c":10,"t":3.98,"y":1},
{"c":11,"t":1.4,"y":0},{"c":11,"t":1.4,"y":0.067},{"c":11,"t":1.95,"y":0.133},{"c":11,"t":2.28,"y":0.2},{"c":11,"t":2.48,"y":0.267},{"c":11,"t":2.62,"y":0.333},{"c":11,"t":2.74,"y":0.4},{"c":11,"t":2.84,"y":0.467},{"c":11,"t":2.94,"y":0.533},{"c":11,"t":3.04,"y":0.6},{"c":11,"t":3.14,"y":0.667},{"c":11,"t":3.24,"y":0.733},{"c":11,"t":3.34,"y":0.8},{"c":11,"t":3.46,"y":0.867},{"c":11,"t":3.58,"y":0.933},{"c":11,"t":3.8,"y":1}],
"y3":[
{"c":1,"t":1.1,"y":0},{"c":1,"t":1.1,"y":0.067},{"c":1,"t":1.7,"y":0.133},{"c":1,"t":2,"y":0.2},{"c":1,"t":2.15,"y":0.267},{"c":1,"t":2.3,"y":0.333},{"c":1,"t":2.4,"y":0.4},{"c":1,"t":2.5,"y":0.467},{"c":1,"t":2.58,"y":0.533},{"c":1,"t":2.66,"y":0.6},{"c":1,"t":2.75,"y":0.667},{"c":1,"t":2.85,"y":0.733},{"c":1,"t":2.93,"y":0.8},{"c":1,"t":3.02,"y":0.867},{"c":1,"t":3.12,"y":0.933},{"c":1,"t":3.3,"y":1},
{"c":2,"t":1.35,"y":0},{"c":2,"t":1.35,"y":0.067},{"c":2,"t":1.85,"y":0.133},{"c":2,"t":2.08,"y":0.2},{"c":2,"t":2.25,"y":0.267},{"c":2,"t":2.38,"y":0.333},{"c":2,"t":2.48,"y":0.4},{"c":2,"t":2.57,"y":0.467},{"c":2,"t":2.66,"y":0.533},{"c":2,"t":2.75,"y":0.6},{"c":2,"t":2.83,"y":0.667},{"c":2,"t":2.93,"y":0.733},{"c":2,"t":3.02,"y":0.8},{"c":2,"t":3.12,"y":0.867},{"c":2,"t":3.22,"y":0.933},{"c":2,"t":3.45,"y":1},
{"c":3,"t":1.55,"y":0},{"c":3,"t":1.55,"y":0.067},{"c":3,"t":1.95,"y":0.133},{"c":3,"t":2.18,"y":0.2},{"c":3,"t":2.33,"y":0.267},{"c":3,"t":2.46,"y":0.333},{"c":3,"t":2.56,"y":0.4},{"c":3,"t":2.65,"y":0.467},{"c":3,"t":2.74,"y":0.533},{"c":3,"t":2.83,"y":0.6},{"c":3,"t":2.92,"y":0.667},{"c":3,"t":3.02,"y":0.733},{"c":3,"t":3.1,"y":0.8},{"c":3,"t":3.2,"y":0.867},{"c":3,"t":3.32,"y":0.933},{"c":3,"t":3.6,"y":1},
{"c":4,"t":1.75,"y":0},{"c":4,"t":1.75,"y":0.067},{"c":4,"t":2.05,"y":0.133},{"c":4,"t":2.28,"y":0.2},{"c":4,"t":2.42,"y":0.267},{"c":4,"t":2.55,"y":0.333},{"c":4,"t":2.65,"y":0.4},{"c":4,"t":2.75,"y":0.467},{"c":4,"t":2.84,"y":0.533},{"c":4,"t":2.93,"y":0.6},{"c":4,"t":3.02,"y":0.667},{"c":4,"t":3.11,"y":0.733},{"c":4,"t":3.2,"y":0.8},{"c":4,"t":3.3,"y":0.867},{"c":4,"t":3.45,"y":0.933},{"c":4,"t":3.85,"y":1},
{"c":5,"t":1.25,"y":0},{"c":5,"t":1.25,"y":0.067},{"c":5,"t":1.9,"y":0.133},{"c":5,"t":2.15,"y":0.2},{"c":5,"t":2.3,"y":0.267},{"c":5,"t":2.44,"y":0.333},{"c":5,"t":2.53,"y":0.4},{"c":5,"t":2.62,"y":0.467},{"c":5,"t":2.7,"y":0.533},{"c":5,"t":2.8,"y":0.6},{"c":5,"t":2.88,"y":0.667},{"c":5,"t":2.98,"y":0.733},{"c":5,"t":3.06,"y":0.8},{"c":5,"t":3.16,"y":0.867},{"c":5,"t":3.28,"y":0.933},{"c":5,"t":3.7,"y":1},
{"c":6,"t":1.45,"y":0},{"c":6,"t":1.45,"y":0.067},{"c":6,"t":1.8,"y":0.133},{"c":6,"t":2.05,"y":0.2},{"c":6,"t":2.22,"y":0.267},{"c":6,"t":2.35,"y":0.333},{"c":6,"t":2.45,"y":0.4},{"c":6,"t":2.55,"y":0.467},{"c":6,"t":2.63,"y":0.533},{"c":6,"t":2.72,"y":0.6},{"c":6,"t":2.8,"y":0.667},{"c":6,"t":2.9,"y":0.733},{"c":6,"t":2.98,"y":0.8},{"c":6,"t":3.08,"y":0.867},{"c":6,"t":3.18,"y":0.933},{"c":6,"t":3.38,"y":1},
{"c":7,"t":1.65,"y":0},{"c":7,"t":1.65,"y":0.067},{"c":7,"t":2,"y":0.133},{"c":7,"t":2.22,"y":0.2},{"c":7,"t":2.38,"y":0.267},{"c":7,"t":2.5,"y":0.333},{"c":7,"t":2.6,"y":0.4},{"c":7,"t":2.7,"y":0.467},{"c":7,"t":2.78,"y":0.533},{"c":7,"t":2.88,"y":0.6},{"c":7,"t":2.96,"y":0.667},{"c":7,"t":3.06,"y":0.733},{"c":7,"t":3.15,"y":0.8},{"c":7,"t":3.25,"y":0.867},{"c":7,"t":3.38,"y":0.933},{"c":7,"t":3.75,"y":1},
{"c":8,"t":1,"y":0},{"c":8,"t":1,"y":0.067},{"c":8,"t":1.6,"y":0.133},{"c":8,"t":1.95,"y":0.2},{"c":8,"t":2.12,"y":0.267},{"c":8,"t":2.26,"y":0.333},{"c":8,"t":2.37,"y":0.4},{"c":8,"t":2.47,"y":0.467},{"c":8,"t":2.56,"y":0.533},{"c":8,"t":2.64,"y":0.6},{"c":8,"t":2.72,"y":0.667},{"c":8,"t":2.81,"y":0.733},{"c":8,"t":2.9,"y":0.8},{"c":8,"t":2.99,"y":0.867},{"c":8,"t":3.08,"y":0.933},{"c":8,"t":3.25,"y":1},
{"c":9,"t":1.85,"y":0},{"c":9,"t":1.85,"y":0.067},{"c":9,"t":2.12,"y":0.133},{"c":9,"t":2.32,"y":0.2},{"c":9,"t":2.46,"y":0.267},{"c":9,"t":2.58,"y":0.333},{"c":9,"t":2.68,"y":0.4},{"c":9,"t":2.78,"y":0.467},{"c":9,"t":2.87,"y":0.533},{"c":9,"t":2.96,"y":0.6},{"c":9,"t":3.05,"y":0.667},{"c":9,"t":3.14,"y":0.733},{"c":9,"t":3.22,"y":0.8},{"c":9,"t":3.32,"y":0.867},{"c":9,"t":3.48,"y":0.933},{"c":9,"t":3.9,"y":1},
{"c":10,"t":1.5,"y":0},{"c":10,"t":1.5,"y":0.067},{"c":10,"t":1.9,"y":0.133},{"c":10,"t":2.14,"y":0.2},{"c":10,"t":2.3,"y":0.267},{"c":10,"t":2.42,"y":0.333},{"c":10,"t":2.52,"y":0.4},{"c":10,"t":2.62,"y":0.467},{"c":10,"t":2.71,"y":0.533},{"c":10,"t":2.8,"y":0.6},{"c":10,"t":2.88,"y":0.667},{"c":10,"t":2.97,"y":0.733},{"c":10,"t":3.06,"y":0.8},{"c":10,"t":3.16,"y":0.867},{"c":10,"t":3.28,"y":0.933},{"c":10,"t":3.55,"y":1},
{"c":11,"t":1.3,"y":0},{"c":11,"t":1.3,"y":0.067},{"c":11,"t":1.78,"y":0.133},{"c":11,"t":2.04,"y":0.2},{"c":11,"t":2.2,"y":0.267},{"c":11,"t":2.34,"y":0.333},{"c":11,"t":2.44,"y":0.4},{"c":11,"t":2.54,"y":0.467},{"c":11,"t":2.62,"y":0.533},{"c":11,"t":2.7,"y":0.6},{"c":11,"t":2.79,"y":0.667},{"c":11,"t":2.88,"y":0.733},{"c":11,"t":2.96,"y":0.8},{"c":11,"t":3.06,"y":0.867},{"c":11,"t":3.16,"y":0.933},{"c":11,"t":3.4,"y":1}],
"y6":[
{"c":1,"t":1.15,"y":0},{"c":1,"t":1.15,"y":0.067},{"c":1,"t":1.75,"y":0.133},{"c":1,"t":2.02,"y":0.2},{"c":1,"t":2.18,"y":0.267},{"c":1,"t":2.32,"y":0.333},{"c":1,"t":2.43,"y":0.4},{"c":1,"t":2.53,"y":0.467},{"c":1,"t":2.61,"y":0.533},{"c":1,"t":2.7,"y":0.6},{"c":1,"t":2.78,"y":0.667},{"c":1,"t":2.87,"y":0.733},{"c":1,"t":2.95,"y":0.8},{"c":1,"t":3.04,"y":0.867},{"c":1,"t":3.14,"y":0.933},{"c":1,"t":3.32,"y":1},
{"c":2,"t":1.4,"y":0},{"c":2,"t":1.4,"y":0.067},{"c":2,"t":1.88,"y":0.133},{"c":2,"t":2.12,"y":0.2},{"c":2,"t":2.28,"y":0.267},{"c":2,"t":2.41,"y":0.333},{"c":2,"t":2.51,"y":0.4},{"c":2,"t":2.6,"y":0.467},{"c":2,"t":2.69,"y":0.533},{"c":2,"t":2.78,"y":0.6},{"c":2,"t":2.86,"y":0.667},{"c":2,"t":2.95,"y":0.733},{"c":2,"t":3.04,"y":0.8},{"c":2,"t":3.14,"y":0.867},{"c":2,"t":3.25,"y":0.933},{"c":2,"t":3.48,"y":1},
{"c":3,"t":1.6,"y":0},{"c":3,"t":1.6,"y":0.067},{"c":3,"t":1.98,"y":0.133},{"c":3,"t":2.21,"y":0.2},{"c":3,"t":2.36,"y":0.267},{"c":3,"t":2.49,"y":0.333},{"c":3,"t":2.59,"y":0.4},{"c":3,"t":2.68,"y":0.467},{"c":3,"t":2.77,"y":0.533},{"c":3,"t":2.86,"y":0.6},{"c":3,"t":2.95,"y":0.667},{"c":3,"t":3.04,"y":0.733},{"c":3,"t":3.13,"y":0.8},{"c":3,"t":3.23,"y":0.867},{"c":3,"t":3.35,"y":0.933},{"c":3,"t":3.62,"y":1},
{"c":4,"t":1.8,"y":0},{"c":4,"t":1.8,"y":0.067},{"c":4,"t":2.1,"y":0.133},{"c":4,"t":2.31,"y":0.2},{"c":4,"t":2.45,"y":0.267},{"c":4,"t":2.58,"y":0.333},{"c":4,"t":2.68,"y":0.4},{"c":4,"t":2.78,"y":0.467},{"c":4,"t":2.87,"y":0.533},{"c":4,"t":2.96,"y":0.6},{"c":4,"t":3.05,"y":0.667},{"c":4,"t":3.14,"y":0.733},{"c":4,"t":3.23,"y":0.8},{"c":4,"t":3.33,"y":0.867},{"c":4,"t":3.48,"y":0.933},{"c":4,"t":3.9,"y":1},
{"c":5,"t":1.3,"y":0},{"c":5,"t":1.3,"y":0.067},{"c":5,"t":1.92,"y":0.133},{"c":5,"t":2.17,"y":0.2},{"c":5,"t":2.33,"y":0.267},{"c":5,"t":2.46,"y":0.333},{"c":5,"t":2.56,"y":0.4},{"c":5,"t":2.65,"y":0.467},{"c":5,"t":2.74,"y":0.533},{"c":5,"t":2.83,"y":0.6},{"c":5,"t":2.91,"y":0.667},{"c":5,"t":3,"y":0.733},{"c":5,"t":3.09,"y":0.8},{"c":5,"t":3.19,"y":0.867},{"c":5,"t":3.3,"y":0.933},{"c":5,"t":3.75,"y":1},
{"c":6,"t":1.5,"y":0},{"c":6,"t":1.5,"y":0.067},{"c":6,"t":1.82,"y":0.133},{"c":6,"t":2.08,"y":0.2},{"c":6,"t":2.25,"y":0.267},{"c":6,"t":2.38,"y":0.333},{"c":6,"t":2.48,"y":0.4},{"c":6,"t":2.58,"y":0.467},{"c":6,"t":2.66,"y":0.533},{"c":6,"t":2.75,"y":0.6},{"c":6,"t":2.83,"y":0.667},{"c":6,"t":2.92,"y":0.733},{"c":6,"t":3,"y":0.8},{"c":6,"t":3.1,"y":0.867},{"c":6,"t":3.2,"y":0.933},{"c":6,"t":3.4,"y":1},
{"c":7,"t":1.7,"y":0},{"c":7,"t":1.7,"y":0.067},{"c":7,"t":2.03,"y":0.133},{"c":7,"t":2.26,"y":0.2},{"c":7,"t":2.41,"y":0.267},{"c":7,"t":2.53,"y":0.333},{"c":7,"t":2.63,"y":0.4},{"c":7,"t":2.73,"y":0.467},{"c":7,"t":2.82,"y":0.533},{"c":7,"t":2.91,"y":0.6},{"c":7,"t":3,"y":0.667},{"c":7,"t":3.09,"y":0.733},{"c":7,"t":3.18,"y":0.8},{"c":7,"t":3.28,"y":0.867},{"c":7,"t":3.42,"y":0.933},{"c":7,"t":3.8,"y":1},
{"c":8,"t":1.05,"y":0},{"c":8,"t":1.05,"y":0.067},{"c":8,"t":1.65,"y":0.133},{"c":8,"t":1.98,"y":0.2},{"c":8,"t":2.15,"y":0.267},{"c":8,"t":2.29,"y":0.333},{"c":8,"t":2.4,"y":0.4},{"c":8,"t":2.5,"y":0.467},{"c":8,"t":2.59,"y":0.533},{"c":8,"t":2.67,"y":0.6},{"c":8,"t":2.75,"y":0.667},{"c":8,"t":2.84,"y":0.733},{"c":8,"t":2.93,"y":0.8},{"c":8,"t":3.02,"y":0.867},{"c":8,"t":3.12,"y":0.933},{"c":8,"t":3.28,"y":1},
{"c":9,"t":1.9,"y":0},{"c":9,"t":1.9,"y":0.067},{"c":9,"t":2.16,"y":0.133},{"c":9,"t":2.36,"y":0.2},{"c":9,"t":2.5,"y":0.267},{"c":9,"t":2.62,"y":0.333},{"c":9,"t":2.72,"y":0.4},{"c":9,"t":2.82,"y":0.467},{"c":9,"t":2.91,"y":0.533},{"c":9,"t":3,"y":0.6},{"c":9,"t":3.09,"y":0.667},{"c":9,"t":3.18,"y":0.733},{"c":9,"t":3.26,"y":0.8},{"c":9,"t":3.36,"y":0.867},{"c":9,"t":3.52,"y":0.933},{"c":9,"t":3.95,"y":1},
{"c":10,"t":1.55,"y":0},{"c":10,"t":1.55,"y":0.067},{"c":10,"t":1.94,"y":0.133},{"c":10,"t":2.18,"y":0.2},{"c":10,"t":2.33,"y":0.267},{"c":10,"t":2.45,"y":0.333},{"c":10,"t":2.55,"y":0.4},{"c":10,"t":2.65,"y":0.467},{"c":10,"t":2.74,"y":0.533},{"c":10,"t":2.83,"y":0.6},{"c":10,"t":2.91,"y":0.667},{"c":10,"t":3,"y":0.733},{"c":10,"t":3.09,"y":0.8},{"c":10,"t":3.19,"y":0.867},{"c":10,"t":3.31,"y":0.933},{"c":10,"t":3.58,"y":1},
{"c":11,"t":1.35,"y":0},{"c":11,"t":1.35,"y":0.067},{"c":11,"t":1.8,"y":0.133},{"c":11,"t":2.07,"y":0.2},{"c":11,"t":2.23,"y":0.267},{"c":11,"t":2.37,"y":0.333},{"c":11,"t":2.47,"y":0.4},{"c":11,"t":2.57,"y":0.467},{"c":11,"t":2.65,"y":0.533},{"c":11,"t":2.73,"y":0.6},{"c":11,"t":2.82,"y":0.667},{"c":11,"t":2.91,"y":0.733},{"c":11,"t":2.99,"y":0.8},{"c":11,"t":3.09,"y":0.867},{"c":11,"t":3.19,"y":0.933},{"c":11,"t":3.42,"y":1}],
"y9":[
{"c":1,"t":1.2,"y":0},{"c":1,"t":1.2,"y":0.067},{"c":1,"t":1.78,"y":0.133},{"c":1,"t":2.05,"y":0.2},{"c":1,"t":2.2,"y":0.267},{"c":1,"t":2.34,"y":0.333},{"c":1,"t":2.45,"y":0.4},{"c":1,"t":2.55,"y":0.467},{"c":1,"t":2.63,"y":0.533},{"c":1,"t":2.72,"y":0.6},{"c":1,"t":2.8,"y":0.667},{"c":1,"t":2.88,"y":0.733},{"c":1,"t":2.96,"y":0.8},{"c":1,"t":3.05,"y":0.867},{"c":1,"t":3.15,"y":0.933},{"c":1,"t":3.3,"y":1},
{"c":2,"t":1.45,"y":0},{"c":2,"t":1.45,"y":0.067},{"c":2,"t":1.9,"y":0.133},{"c":2,"t":2.14,"y":0.2},{"c":2,"t":2.3,"y":0.267},{"c":2,"t":2.43,"y":0.333},{"c":2,"t":2.53,"y":0.4},{"c":2,"t":2.62,"y":0.467},{"c":2,"t":2.71,"y":0.533},{"c":2,"t":2.8,"y":0.6},{"c":2,"t":2.88,"y":0.667},{"c":2,"t":2.97,"y":0.733},{"c":2,"t":3.05,"y":0.8},{"c":2,"t":3.15,"y":0.867},{"c":2,"t":3.26,"y":0.933},{"c":2,"t":3.45,"y":1},
{"c":3,"t":1.65,"y":0},{"c":3,"t":1.65,"y":0.067},{"c":3,"t":2,"y":0.133},{"c":3,"t":2.23,"y":0.2},{"c":3,"t":2.38,"y":0.267},{"c":3,"t":2.51,"y":0.333},{"c":3,"t":2.61,"y":0.4},{"c":3,"t":2.7,"y":0.467},{"c":3,"t":2.79,"y":0.533},{"c":3,"t":2.88,"y":0.6},{"c":3,"t":2.97,"y":0.667},{"c":3,"t":3.06,"y":0.733},{"c":3,"t":3.15,"y":0.8},{"c":3,"t":3.25,"y":0.867},{"c":3,"t":3.37,"y":0.933},{"c":3,"t":3.6,"y":1},
{"c":4,"t":1.85,"y":0},{"c":4,"t":1.85,"y":0.067},{"c":4,"t":2.12,"y":0.133},{"c":4,"t":2.33,"y":0.2},{"c":4,"t":2.47,"y":0.267},{"c":4,"t":2.6,"y":0.333},{"c":4,"t":2.7,"y":0.4},{"c":4,"t":2.8,"y":0.467},{"c":4,"t":2.89,"y":0.533},{"c":4,"t":2.98,"y":0.6},{"c":4,"t":3.07,"y":0.667},{"c":4,"t":3.16,"y":0.733},{"c":4,"t":3.25,"y":0.8},{"c":4,"t":3.35,"y":0.867},{"c":4,"t":3.5,"y":0.933},{"c":4,"t":3.8,"y":1},
{"c":5,"t":1.35,"y":0},{"c":5,"t":1.35,"y":0.067},{"c":5,"t":1.95,"y":0.133},{"c":5,"t":2.19,"y":0.2},{"c":5,"t":2.35,"y":0.267},{"c":5,"t":2.48,"y":0.333},{"c":5,"t":2.58,"y":0.4},{"c":5,"t":2.67,"y":0.467},{"c":5,"t":2.76,"y":0.533},{"c":5,"t":2.85,"y":0.6},{"c":5,"t":2.93,"y":0.667},{"c":5,"t":3.02,"y":0.733},{"c":5,"t":3.11,"y":0.8},{"c":5,"t":3.21,"y":0.867},{"c":5,"t":3.32,"y":0.933},{"c":5,"t":3.7,"y":1},
{"c":6,"t":1.55,"y":0},{"c":6,"t":1.55,"y":0.067},{"c":6,"t":1.85,"y":0.133},{"c":6,"t":2.1,"y":0.2},{"c":6,"t":2.27,"y":0.267},{"c":6,"t":2.4,"y":0.333},{"c":6,"t":2.5,"y":0.4},{"c":6,"t":2.6,"y":0.467},{"c":6,"t":2.68,"y":0.533},{"c":6,"t":2.77,"y":0.6},{"c":6,"t":2.85,"y":0.667},{"c":6,"t":2.94,"y":0.733},{"c":6,"t":3.02,"y":0.8},{"c":6,"t":3.12,"y":0.867},{"c":6,"t":3.22,"y":0.933},{"c":6,"t":3.4,"y":1},
{"c":7,"t":1.75,"y":0},{"c":7,"t":1.75,"y":0.067},{"c":7,"t":2.06,"y":0.133},{"c":7,"t":2.28,"y":0.2},{"c":7,"t":2.43,"y":0.267},{"c":7,"t":2.56,"y":0.333},{"c":7,"t":2.66,"y":0.4},{"c":7,"t":2.76,"y":0.467},{"c":7,"t":2.85,"y":0.533},{"c":7,"t":2.94,"y":0.6},{"c":7,"t":3.03,"y":0.667},{"c":7,"t":3.12,"y":0.733},{"c":7,"t":3.21,"y":0.8},{"c":7,"t":3.31,"y":0.867},{"c":7,"t":3.45,"y":0.933},{"c":7,"t":3.7,"y":1},
{"c":8,"t":1.1,"y":0},{"c":8,"t":1.1,"y":0.067},{"c":8,"t":1.7,"y":0.133},{"c":8,"t":2,"y":0.2},{"c":8,"t":2.17,"y":0.267},{"c":8,"t":2.31,"y":0.333},{"c":8,"t":2.42,"y":0.4},{"c":8,"t":2.52,"y":0.467},{"c":8,"t":2.61,"y":0.533},{"c":8,"t":2.69,"y":0.6},{"c":8,"t":2.77,"y":0.667},{"c":8,"t":2.86,"y":0.733},{"c":8,"t":2.94,"y":0.8},{"c":8,"t":3.03,"y":0.867},{"c":8,"t":3.13,"y":0.933},{"c":8,"t":3.28,"y":1},
{"c":9,"t":1.95,"y":0},{"c":9,"t":1.95,"y":0.067},{"c":9,"t":2.2,"y":0.133},{"c":9,"t":2.38,"y":0.2},{"c":9,"t":2.52,"y":0.267},{"c":9,"t":2.64,"y":0.333},{"c":9,"t":2.74,"y":0.4},{"c":9,"t":2.84,"y":0.467},{"c":9,"t":2.93,"y":0.533},{"c":9,"t":3.02,"y":0.6},{"c":9,"t":3.11,"y":0.667},{"c":9,"t":3.2,"y":0.733},{"c":9,"t":3.28,"y":0.8},{"c":9,"t":3.38,"y":0.867},{"c":9,"t":3.54,"y":0.933},{"c":9,"t":3.9,"y":1},
{"c":10,"t":1.6,"y":0},{"c":10,"t":1.6,"y":0.067},{"c":10,"t":1.96,"y":0.133},{"c":10,"t":2.2,"y":0.2},{"c":10,"t":2.35,"y":0.267},{"c":10,"t":2.47,"y":0.333},{"c":10,"t":2.57,"y":0.4},{"c":10,"t":2.67,"y":0.467},{"c":10,"t":2.76,"y":0.533},{"c":10,"t":2.85,"y":0.6},{"c":10,"t":2.93,"y":0.667},{"c":10,"t":3.02,"y":0.733},{"c":10,"t":3.11,"y":0.8},{"c":10,"t":3.21,"y":0.867},{"c":10,"t":3.33,"y":0.933},{"c":10,"t":3.6,"y":1},
{"c":11,"t":1.4,"y":0},{"c":11,"t":1.4,"y":0.067},{"c":11,"t":1.82,"y":0.133},{"c":11,"t":2.09,"y":0.2},{"c":11,"t":2.25,"y":0.267},{"c":11,"t":2.39,"y":0.333},{"c":11,"t":2.49,"y":0.4},{"c":11,"t":2.59,"y":0.467},{"c":11,"t":2.67,"y":0.533},{"c":11,"t":2.75,"y":0.6},{"c":11,"t":2.84,"y":0.667},{"c":11,"t":2.93,"y":0.733},{"c":11,"t":3.01,"y":0.8},{"c":11,"t":3.11,"y":0.867},{"c":11,"t":3.21,"y":0.933},{"c":11,"t":3.42,"y":1}]
},
"concat":[
{"width":420,"height":390,"resolve":{"axis":{"x":"independent","y":"independent"}},"layer":[
{"data":{"name":"y1"},"mark":{"type":"line","interpolate":"step-after","strokeWidth":1,"color":"#bfbf00","clip":true},"encoding":{"x":{"field":"t","type":"quantitative","scale":{"domain":[0,9],"nice":false},"axis":{"values":[0,1,2,3,4,5,6,7,8,9],"labels":false,"title":null}},"y":{"field":"y","type":"quantitative","scale":{"domain":[0,1],"nice":false},"axis":{"values":[0,0.2,0.4,0.6,0.8,1],"format":".1f","title":"P(<τeff)"}},"detail":{"field":"c"},"order":{"value":null}}},
{"data":{"name":"b58"},"mark":{"type":"line","interpolate":"step-after","strokeWidth":2,"clip":true},"encoding":{"x":{"field":"t","type":"quantitative","axis":{"orient":"top","values":[0,1,2,3,4,5,6,7,8,9],"labels":false,"title":null}},"y":{"field":"y","type":"quantitative","axis":{"orient":"right","values":[0,0.2,0.4,0.6,0.8,1],"labels":false,"title":null}},"order":{"value":null},"color":{"datum":"Becker 2015","type":"nominal","scale":{"domain":["Becker 2015","Galaxies+QSOs","λmfp=15.0","βgal=1.00","βQSOs=16.00","z ~ 5.8"],"range":["black","red","transparent","transparent","transparent","transparent"]},"legend":{"orient":"top-left","title":null}}}},
{"data":{"name":"r1"},"mark":{"type":"line","interpolate":"monotone","strokeWidth":2,"clip":true},"encoding":{"x":{"field":"t","type":"quantitative","axis":null},"y":{"field":"y","type":"quantitative","axis":null},"order":{"value":null},"color":{"datum":"Galaxies+QSOs","type":"nominal"}}},
{"data":{"values":[{}]},"mark":{"type":"rect","color":"#333333"},"encoding":{"x":{"datum":5.44,"axis":null},"x2":{"datum":8.91},"y":{"datum":0.221,"axis":null},"y2":{"datum":0.292}}},
{"data":{"values":[{}]},"mark":{"type":"rect","color":"#333333"},"encoding":{"x":{"datum":5.44,"axis":null},"x2":{"datum":8.63},"y":{"datum":0.072,"axis":null},"y2":{"datum":0.144}}},
{"data":{"values":[{"s":"<Γ12 QSO>=0.65"}]},"mark":{"type":"text"},"encoding":{"x":{"datum":5.59,"axis":null},"y":{"datum":0.256,"axis":null},"text":{"field":"s"}}},
{"data":{"values":[{"s":"<Γ12 gal>=0.23"}]},"mark":{"type":"text"},"encoding":{"x":{"datum":5.59,"axis":null},"y":{"datum":0.108,"axis":null},"text":{"field":"s"}}}
]},
{"width":420,"height":390,"resolve":{"axis":{"x":"independent","y":"independent"}},"layer":[
{"data":{"name":"y2"},"mark":{"type":"line","interpolate":"step-after","strokeWidth":1,"color":"#bfbf00","clip":true},"encoding":{"x":{"field":"t","type":"quantitative","scale":{"domain":[0,9],"nice":false},"axis":{"values":[0,1,2,3,4,5,6,7,8,9],"labels":false,"title":null}},"y":{"field":"y","type":"quantitative","scale":{"domain":[0,1],"nice":false},"axis":{"values":[0,0.2,0.4,0.6,0.8,1],"labels":false,"title":null}},"detail":{"field":"c"},"order":{"value":null}}},
{"data":{"name":"b56"},"mark":{"type":"line","interpolate":"step-after","strokeWidth":2,"clip":true},"encoding":{"x":{"field":"t","type":"quantitative","axis":{"orient":"top","values":[0,1,2,3,4,5,6,7,8,9],"labels":false,"title":null}},"y":{"field":"y","type":"quantitative","axis":{"orient":"right","values":[0,0.2,0.4,0.6,0.8,1],"labels":false,"title":null}},"order":{"value":null},"color":{"datum":"Becker 2015","type":"nominal","scale":{"domain":["Becker 2015","Galaxies+QSOs","λmfp=33.0","βgal=1.00","βQSOs=11.00","z ~ 5.6"],"range":["black","red","transparent","transparent","transparent","transparent"]},"legend":{"orient":"bottom-right","title":null,"values":["λmfp=33.0","βgal=1.00","βQSOs=11.00","z ~ 5.6"]}}}},
{"data":{"name":"r2"},"mark":{"type":"line","interpolate":"monotone","strokeWidth":2,"clip":true},"encoding":{"x":{"field":"t","type":"quantitative","axis":null},"y":{"field":"y","type":"quantitative","axis":null},"order":{"value":null},"color":{"datum":"Galaxies+QSOs","type":"nominal"}}},
{"data":{"values":[{}]},"mark":{"type":"rect","color":"#333333"},"encoding":{"x":{"datum":5.44,"axis":null},"x2":{"datum":8.89},"y":{"datum":0.823,"axis":null},"y2":{"datum":0.895}}},
{"data":{"values":[{}]},"mark":{"type":"rect","color":"#333333"},"encoding":{"x":{"datum":5.44,"axis":null},"x2":{"datum":8.68},"y":{"datum":0.672,"axis":null},"y2":{"datum":0.744}}},
{"data":{"values":[{"s":"<Γ12 QSO>=0.89"}]},"mark":{"type":"text"},"encoding":{"x":{"datum":5.59,"axis":null},"y":{"datum":0.859,"axis":null},"text":{"field":"s"}}},
{"data":{"values":[{"s":"<Γ12 gal>=0.34"}]},"mark":{"type":"text"},"encoding":{"x":{"datum":5.59,"axis":null},"y":{"datum":0.708,"axis":null},"text":{"field":"s"}}}
]},
{"width":420,"height":390,"resolve":{"axis":{"x":"independent","y":"independent"}},"layer":[
{"data":{"name":"y3"},"mark":{"type":"line","interpolate":"step-after","strokeWidth":1,"color":"#bfbf00","clip":true},"encoding":{"x":{"field":"t","type":"quantitative","scale":{"domain":[0,9],"nice":false},"axis":{"values":[0,1,2,3,4,5,6,7,8,9],"labels":false,"title":null}},"y":{"field":"y","type":"quantitative","scale":{"domain":[0,1],"nice":false},"axis":{"values":[0,0.2,0.4,0.6,0.8,1],"labels":false,"title":null}},"detail":{"field":"c"},"order":{"value":null}}},
{"data":{"name":"b54"},"mark":{"type":"line","interpolate":"step-after","strokeWidth":2,"clip":true},"encoding":{"x":{"field":"t","type":"quantitative","axis":{"orient":"top","values":[0,1,2,3,4,5,6,7,8,9],"labels":false,"title":null}},"y":{"field":"y","type":"quantitative","axis":{"orient":"right","values":[0,0.2,0.4,0.6,0.8,1],"labels":false,"title":null}},"order":{"value":null},"color":{"datum":"Becker 2015","type":"nominal","scale":{"domain":["Becker 2015","Galaxies+QSOs","λmfp=44.0","βgal=1.00","βQSOs=7.00","z ~ 5.4"],"range":["black","red","transparent","transparent","transparent","transparent"]},"legend":{"orient":"top-right","title":null,"values":["λmfp=44.0","βgal=1.00","βQSOs=7.00","z ~ 5.4"]}}}},
{"data":{"name":"r3"},"mark":{"type":"line","interpolate":"monotone","strokeWidth":2,"clip":true},"encoding":{"x":{"field":"t","type":"quantitative","axis":null},"y":{"field":"y","type":"quantitative","axis":null},"order":{"value":null},"color":{"datum":"Galaxies+QSOs","type":"nominal"}}},
{"data":{"values":[{}]},"mark":{"type":"rect","color":"#333333"},"encoding":{"x":{"datum":5.44,"axis":null},"x2":{"datum":8.91},"y":{"datum":0.221,"axis":null},"y2":{"datum":0.292}}},
{"data":{"values":[{}]},"mark":{"type":"rect","color":"#333333"},"encoding":{"x":{"datum":5.44,"axis":null},"x2":{"datum":8.63},"y":{"datum":0.072,"axis":null},"y2":{"datum":0.144}}},
{"data":{"values":[{"s":"<Γ12 QSO>=0.71"}]},"mark":{"type":"text"},"encoding":{"x":{"datum":5.59,"axis":null},"y":{"datum":0.256,"axis":null},"text":{"field":"s"}}},
{"data":{"values":[{"s":"<Γ12 gal>=0.42"}]},"mark":{"type":"text"},"encoding":{"x":{"datum":5.59,"axis":null},"y":{"datum":0.108,"axis":null},"text":{"field":"s"}}}
]},
{"width":420,"height":390,"resolve":{"axis":{"x":"independent","y":"independent"}},"layer":[
{"data":{"name":"y4"},"mark":{"type":"line","interpolate":"step-after","strokeWidth":1,"color":"#bfbf00","clip":true},"encoding":{"x":{"field":"t","type":"quantitative","scale":{"domain":[0,9],"nice":false},"axis":{"values":[0,1,2,3,4,5,6,7,8,9],"labels":false,"title":null}},"y":{"field":"y","type":"quantitative","scale":{"domain":[0,1],"nice":false},"axis":{"values":[0,0.2,0.4,0.6,0.8],"format":".1f","title":"P(<τeff)"}},"detail":{"field":"c"},"order":{"value":null}}},
{"data":{"name":"b58"},"mark":{"type":"line","interpolate":"step-after","strokeWidth":2,"clip":true},"encoding":{"x":{"field":"t","type":"quantitative","axis":{"orient":"top","values":[0,1,2,3,4,5,6,7,8,9],"labels":false,"title":null}},"y":{"field":"y","type":"quantitative","axis":{"orient":"right","values":[0,0.2,0.4,0.6,0.8,1],"labels":false,"title":null}},"order":{"value":null},"color":{"datum":"Becker 2015","type":"nominal","scale":{"domain":["Becker 2015","Galaxies+QSOs","λmfp=25.0","βgal=1.00","βQSOs=8.00","z ~ 5.8"],"range":["black","red","transparent","transparent","transparent","transparent"]},"legend":{"orient":"top-left","title":null,"values":["λmfp=25.0","βgal=1.00","βQSOs=8.00","z ~ 5.8"]}}}},
{"data":{"name":"r4"},"mark":{"type":"line","interpolate":"monotone","strokeWidth":2,"clip":true},"encoding":{"x":{"field":"t","type":"quantitative","axis":null},"y":{"field":"y","type":"quantitative","axis":null},"order":{"value":null},"color":{"datum":"Galaxies+QSOs","type":"nominal"}}},
{"data":{"values":[{}]},"mark":{"type":"rect","color":"#333333"},"encoding":{"x":{"datum":5.44,"axis":null},"x2":{"datum":8.91},"y":{"datum":0.221,"axis":null},"y2":{"datum":0.292}}},
{"data":{"values":[{}]},"mark":{"type":"rect","color":"#333333"},"encoding":{"x":{"datum":5.44,"axis":null},"x2":{"datum":8.63},"y":{"datum":0.072,"axis":null},"y2":{"datum":0.144}}},
{"data":{"values":[{"s":"<Γ12 QSO>=0.53"}]},"mark":{"type":"text"},"encoding":{"x":{"datum":5.59,"axis":null},"y":{"datum":0.256,"axis":null},"text":{"field":"s"}}},
{"data":{"values":[{"s":"<Γ12 gal>=0.23"}]},"mark":{"type":"text"},"encoding":{"x":{"datum":5.59,"axis":null},"y":{"datum":0.108,"axis":null},"text":{"field":"s"}}}
]},
{"width":420,"height":390,"resolve":{"axis":{"x":"independent","y":"independent"}},"layer":[
{"data":{"name":"y5"},"mark":{"type":"line","interpolate":"step-after","strokeWidth":1,"color":"#bfbf00","clip":true},"encoding":{"x":{"field":"t","type":"quantitative","scale":{"domain":[0,9],"nice":false},"axis":{"values":[0,1,2,3,4,5,6,7,8,9],"labels":false,"title":null}},"y":{"field":"y","type":"quantitative","scale":{"domain":[0,1],"nice":false},"axis":{"values":[0,0.2,0.4,0.6,0.8,1],"labels":false,"title":null}},"detail":{"field":"c"},"order":{"value":null}}},
{"data":{"name":"b56"},"mark":{"type":"line","interpolate":"step-after","strokeWidth":2,"clip":true},"encoding":{"x":{"field":"t","type":"quantitative","axis":{"orient":"top","values":[0,1,2,3,4,5,6,7,8,9],"labels":false,"title":null}},"y":{"field":"y","type":"quantitative","axis":{"orient":"right","values":[0,0.2,0.4,0.6,0.8,1],"labels":false,"title":null}},"order":{"value":null},"color":{"datum":"Becker 2015","type":"nominal","scale":{"domain":["Becker 2015","Galaxies+QSOs","λmfp=43.0","βgal=1.00","βQSOs=8.00","z ~ 5.6"],"range":["black","red","transparent","transparent","transparent","transparent"]},"legend":{"orient":"bottom-right","title":null,"values":["λmfp=43.0","βgal=1.00","βQSOs=8.00","z ~ 5.6"]}}}},
{"data":{"name":"r5"},"mark":{"type":"line","interpolate":"monotone","strokeWidth":2,"clip":true},"encoding":{"x":{"field":"t","type":"quantitative","axis":null},"y":{"field":"y","type":"quantitative","axis":null},"order":{"value":null},"color":{"datum":"Galaxies+QSOs","type":"nominal"}}},
{"data":{"values":[{}]},"mark":{"type":"rect","color":"#333333"},"encoding":{"x":{"datum":5.44,"axis":null},"x2":{"datum":8.89},"y":{"datum":0.823,"axis":null},"y2":{"datum":0.895}}},
{"data":{"values":[{}]},"mark":{"type":"rect","color":"#333333"},"encoding":{"x":{"datum":5.44,"axis":null},"x2":{"datum":8.68},"y":{"datum":0.672,"axis":null},"y2":{"datum":0.744}}},
{"data":{"values":[{"s":"<Γ12 QSO>=0.84"}]},"mark":{"type":"text"},"encoding":{"x":{"datum":5.59,"axis":null},"y":{"datum":0.859,"axis":null},"text":{"field":"s"}}},
{"data":{"values":[{"s":"<Γ12 gal>=0.34"}]},"mark":{"type":"text"},"encoding":{"x":{"datum":5.59,"axis":null},"y":{"datum":0.708,"axis":null},"text":{"field":"s"}}}
]},
{"width":420,"height":390,"resolve":{"axis":{"x":"independent","y":"independent"}},"layer":[
{"data":{"name":"y6"},"mark":{"type":"line","interpolate":"step-after","strokeWidth":1,"color":"#bfbf00","clip":true},"encoding":{"x":{"field":"t","type":"quantitative","scale":{"domain":[0,9],"nice":false},"axis":{"values":[0,1,2,3,4,5,6,7,8,9],"labels":false,"title":null}},"y":{"field":"y","type":"quantitative","scale":{"domain":[0,1],"nice":false},"axis":{"values":[0,0.2,0.4,0.6,0.8,1],"labels":false,"title":null}},"detail":{"field":"c"},"order":{"value":null}}},
{"data":{"name":"b54"},"mark":{"type":"line","interpolate":"step-after","strokeWidth":2,"clip":true},"encoding":{"x":{"field":"t","type":"quantitative","axis":{"orient":"top","values":[0,1,2,3,4,5,6,7,8,9],"labels":false,"title":null}},"y":{"field":"y","type":"quantitative","axis":{"orient":"right","values":[0,0.2,0.4,0.6,0.8,1],"labels":false,"title":null}},"order":{"value":null},"color":{"datum":"Becker 2015","type":"nominal","scale":{"domain":["Becker 2015","Galaxies+QSOs","λmfp=54.0","βgal=1.00","βQSOs=5.00","z ~ 5.4"],"range":["black","red","transparent","transparent","transparent","transparent"]},"legend":{"orient":"top-right","title":null,"values":["λmfp=54.0","βgal=1.00","βQSOs=5.00","z ~ 5.4"]}}}},
{"data":{"name":"r6"},"mark":{"type":"line","interpolate":"monotone","strokeWidth":2,"clip":true},"encoding":{"x":{"field":"t","type":"quantitative","axis":null},"y":{"field":"y","type":"quantitative","axis":null},"order":{"value":null},"color":{"datum":"Galaxies+QSOs","type":"nominal"}}},
{"data":{"values":[{}]},"mark":{"type":"rect","color":"#333333"},"encoding":{"x":{"datum":5.44,"axis":null},"x2":{"datum":8.91},"y":{"datum":0.221,"axis":null},"y2":{"datum":0.292}}},
{"data":{"values":[{}]},"mark":{"type":"rect","color":"#333333"},"encoding":{"x":{"datum":5.44,"axis":null},"x2":{"datum":8.63},"y":{"datum":0.072,"axis":null},"y2":{"datum":0.144}}},
{"data":{"values":[{"s":"<Γ12 QSO>=0.62"}]},"mark":{"type":"text"},"encoding":{"x":{"datum":5.59,"axis":null},"y":{"datum":0.256,"axis":null},"text":{"field":"s"}}},
{"data":{"values":[{"s":"<Γ12 gal>=0.42"}]},"mark":{"type":"text"},"encoding":{"x":{"datum":5.59,"axis":null},"y":{"datum":0.108,"axis":null},"text":{"field":"s"}}}
]},
{"width":420,"height":390,"resolve":{"axis":{"x":"independent","y":"independent"}},"layer":[
{"data":{"name":"y7"},"mark":{"type":"line","interpolate":"step-after","strokeWidth":1,"color":"#bfbf00","clip":true},"encoding":{"x":{"field":"t","type":"quantitative","scale":{"domain":[0,9],"nice":false},"axis":{"values":[0,1,2,3,4,5,6,7,8],"title":"τeff"}},"y":{"field":"y","type":"quantitative","scale":{"domain":[0,1],"nice":false},"axis":{"values":[0,0.2,0.4,0.6,0.8],"format":".1f","title":"P(<τeff)"}},"detail":{"field":"c"},"order":{"value":null}}},
{"data":{"name":"b58"},"mark":{"type":"line","interpolate":"step-after","strokeWidth":2,"clip":true},"encoding":{"x":{"field":"t","type":"quantitative","axis":{"orient":"top","values":[0,1,2,3,4,5,6,7,8,9],"labels":false,"title":null}},"y":{"field":"y","type":"quantitative","axis":{"orient":"right","values":[0,0.2,0.4,0.6,0.8,1],"labels":false,"title":null}},"order":{"value":null},"color":{"datum":"Becker 2015","type":"nominal","scale":{"domain":["Becker 2015","Galaxies+QSOs","λmfp=35.0","βgal=1.00","βQSOs=5.00","z ~ 5.8"],"range":["black","red","transparent","transparent","transparent","transparent"]},"legend":{"orient":"top-left","title":null,"values":["λmfp=35.0","βgal=1.00","βQSOs=5.00","z ~ 5.8"]}}}},
{"data":{"name":"r7"},"mark":{"type":"line","interpolate":"monotone","strokeWidth":2,"clip":true},"encoding":{"x":{"field":"t","type":"quantitative","axis":null},"y":{"field":"y","type":"quantitative","axis":null},"order":{"value":null},"color":{"datum":"Galaxies+QSOs","type":"nominal"}}},
{"data":{"values":[{}]},"mark":{"type":"rect","color":"#333333"},"encoding":{"x":{"datum":5.44,"axis":null},"x2":{"datum":8.91},"y":{"datum":0.221,"axis":null},"y2":{"datum":0.292}}},
{"data":{"values":[{}]},"mark":{"type":"rect","color":"#333333"},"encoding":{"x":{"datum":5.44,"axis":null},"x2":{"datum":8.63},"y":{"datum":0.072,"axis":null},"y2":{"datum":0.144}}},
{"data":{"values":[{"s":"<Γ12 QSO>=0.46"}]},"mark":{"type":"text"},"encoding":{"x":{"datum":5.59,"axis":null},"y":{"datum":0.256,"axis":null},"text":{"field":"s"}}},
{"data":{"values":[{"s":"<Γ12 gal>=0.23"}]},"mark":{"type":"text"},"encoding":{"x":{"datum":5.59,"axis":null},"y":{"datum":0.108,"axis":null},"text":{"field":"s"}}}
]},
{"width":420,"height":390,"resolve":{"axis":{"x":"independent","y":"independent"}},"layer":[
{"data":{"name":"y8"},"mark":{"type":"line","interpolate":"step-after","strokeWidth":1,"color":"#bfbf00","clip":true},"encoding":{"x":{"field":"t","type":"quantitative","scale":{"domain":[0,9],"nice":false},"axis":{"values":[0,1,2,3,4,5,6,7,8],"title":"τeff"}},"y":{"field":"y","type":"quantitative","scale":{"domain":[0,1],"nice":false},"axis":{"values":[0,0.2,0.4,0.6,0.8,1],"labels":false,"title":null}},"detail":{"field":"c"},"order":{"value":null}}},
{"data":{"name":"b56"},"mark":{"type":"line","interpolate":"step-after","strokeWidth":2,"clip":true},"encoding":{"x":{"field":"t","type":"quantitative","axis":{"orient":"top","values":[0,1,2,3,4,5,6,7,8,9],"labels":false,"title":null}},"y":{"field":"y","type":"quantitative","axis":{"orient":"right","values":[0,0.2,0.4,0.6,0.8,1],"labels":false,"title":null}},"order":{"value":null},"color":{"datum":"Becker 2015","type":"nominal","scale":{"domain":["Becker 2015","Galaxies+QSOs","λmfp=53.0","βgal=1.00","βQSOs=6.00","z ~ 5.6"],"range":["black","red","transparent","transparent","transparent","transparent"]},"legend":{"orient":"bottom-right","title":null,"values":["λmfp=53.0","βgal=1.00","βQSOs=6.00","z ~ 5.6"]}}}},
{"data":{"name":"r8"},"mark":{"type":"line","interpolate":"monotone","strokeWidth":2,"clip":true},"encoding":{"x":{"field":"t","type":"quantitative","axis":null},"y":{"field":"y","type":"quantitative","axis":null},"order":{"value":null},"color":{"datum":"Galaxies+QSOs","type":"nominal"}}},
{"data":{"values":[{}]},"mark":{"type":"rect","color":"#333333"},"encoding":{"x":{"datum":5.44,"axis":null},"x2":{"datum":8.89},"y":{"datum":0.823,"axis":null},"y2":{"datum":0.895}}},
{"data":{"values":[{}]},"mark":{"type":"rect","color":"#333333"},"encoding":{"x":{"datum":5.44,"axis":null},"x2":{"datum":8.68},"y":{"datum":0.672,"axis":null},"y2":{"datum":0.744}}},
{"data":{"values":[{"s":"<Γ12 QSO>=0.77"}]},"mark":{"type":"text"},"encoding":{"x":{"datum":5.59,"axis":null},"y":{"datum":0.859,"axis":null},"text":{"field":"s"}}},
{"data":{"values":[{"s":"<Γ12 gal>=0.34"}]},"mark":{"type":"text"},"encoding":{"x":{"datum":5.59,"axis":null},"y":{"datum":0.708,"axis":null},"text":{"field":"s"}}}
]},
{"width":420,"height":390,"resolve":{"axis":{"x":"independent","y":"independent"}},"layer":[
{"data":{"name":"y9"},"mark":{"type":"line","interpolate":"step-after","strokeWidth":1,"color":"#bfbf00","clip":true},"encoding":{"x":{"field":"t","type":"quantitative","scale":{"domain":[0,9],"nice":false},"axis":{"values":[0,1,2,3,4,5,6,7,8,9],"title":"τeff"}},"y":{"field":"y","type":"quantitative","scale":{"domain":[0,1],"nice":false},"axis":{"values":[0,0.2,0.4,0.6,0.8,1],"labels":false,"title":null}},"detail":{"field":"c"},"order":{"value":null}}},
{"data":{"name":"b54"},"mark":{"type":"line","interpolate":"step-after","strokeWidth":2,"clip":true},"encoding":{"x":{"field":"t","type":"quantitative","axis":{"orient":"top","values":[0,1,2,3,4,5,6,7,8,9],"labels":false,"title":null}},"y":{"field":"y","type":"quantitative","axis":{"orient":"right","values":[0,0.2,0.4,0.6,0.8,1],"labels":false,"title":null}},"order":{"value":null},"color":{"datum":"Becker 2015","type":"nominal","scale":{"domain":["Becker 2015","Galaxies+QSOs","λmfp=64.0","βgal=1.00","βQSOs=4.00","z ~ 5.4"],"range":["black","red","transparent","transparent","transparent","transparent"]},"legend":{"orient":"top-right","title":null,"values":["λmfp=64.0","βgal=1.00","βQSOs=4.00","z ~ 5.4"]}}}},
{"data":{"name":"r9"},"mark":{"type":"line","interpolate":"monotone","strokeWidth":2,"clip":true},"encoding":{"x":{"field":"t","type":"quantitative","axis":null},"y":{"field":"y","type":"quantitative","axis":null},"order":{"value":null},"color":{"datum":"Galaxies+QSOs","type":"nominal"}}},
{"data":{"values":[{}]},"mark":{"type":"rect","color":"#333333"},"encoding":{"x":{"datum":5.44,"axis":null},"x2":{"datum":8.91},"y":{"datum":0.221,"axis":null},"y2":{"datum":0.292}}},
{"data":{"values":[{}]},"mark":{"type":"rect","color":"#333333"},"encoding":{"x":{"datum":5.44,"axis":null},"x2":{"datum":8.63},"y":{"datum":0.072,"axis":null},"y2":{"datum":0.144}}},
{"data":{"values":[{"s":"<Γ12 QSO>=0.58"}]},"mark":{"type":"text"},"encoding":{"x":{"datum":5.59,"axis":null},"y":{"datum":0.256,"axis":null},"text":{"field":"s"}}},
{"data":{"values":[{"s":"<Γ12 gal>=0.42"}]},"mark":{"type":"text"},"encoding":{"x":{"datum":5.59,"axis":null},"y":{"datum":0.108,"axis":null},"text":{"field":"s"}}}
]}
],
"config":{
"view":{"stroke":"black","strokeWidth":1},
"axis":{"labelFont":"DejaVu Sans","labelFontSize":14,"labelColor":"black","labelFlush":false,"labelOverlap":false,"labelPadding":9,"tickSize":-5,"tickColor":"black","tickWidth":1,"domain":false,"grid":false,"titleFont":"Liberation Serif","titleFontSize":26,"titleFontWeight":"normal","titleColor":"black","titlePadding":5},
"legend":{"labelFont":"DejaVu Sans","labelFontSize":16,"labelColor":"black","symbolType":"stroke","symbolSize":625,"symbolStrokeWidth":2,"labelOffset":23,"rowPadding":5,"padding":4,"strokeColor":"black","fillColor":"white","cornerRadius":0,"offset":8,"labelLimit":300},
"text":{"font":"DejaVu Sans","fontSize":16,"color":"white","align":"left","baseline":"middle"}
}
}
